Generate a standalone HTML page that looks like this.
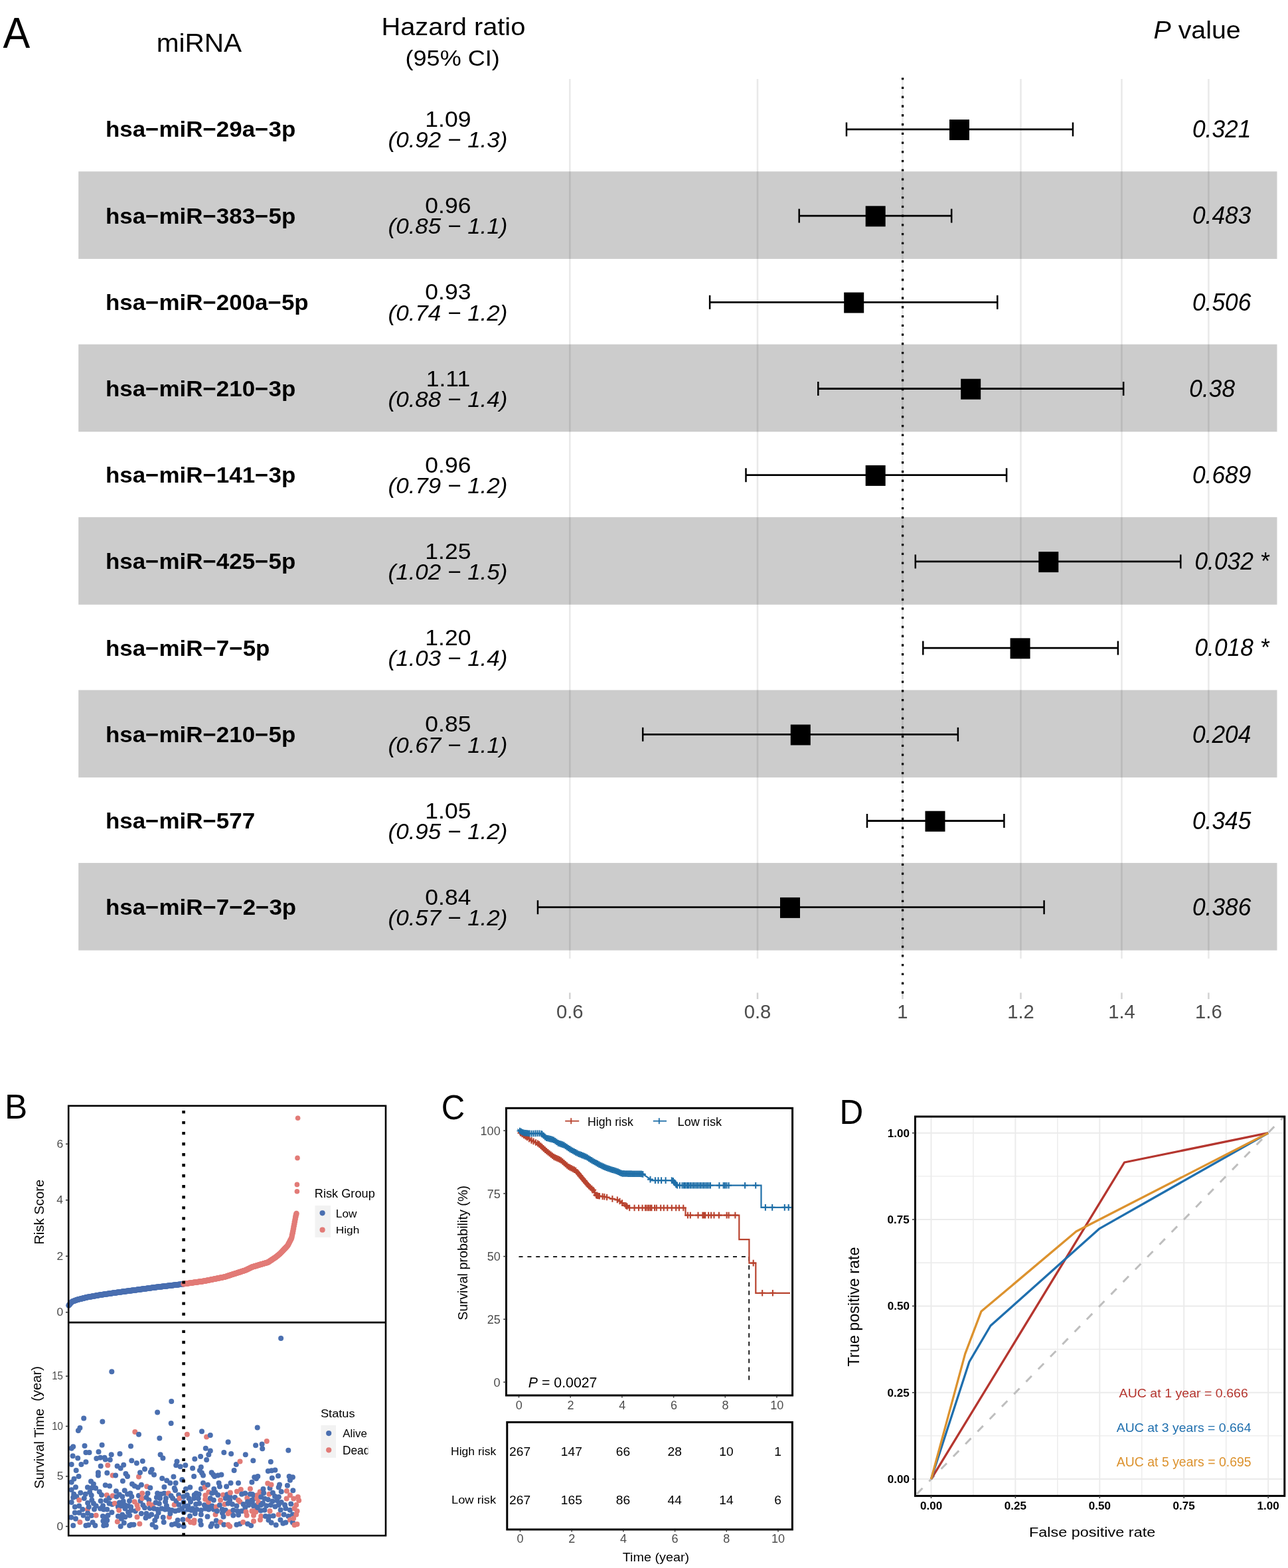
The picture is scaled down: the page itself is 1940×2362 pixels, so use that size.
<!DOCTYPE html>
<html><head><meta charset="utf-8"><title>Figure</title>
<style>html,body{margin:0;padding:0;background:#fff;} svg{display:block;} text{font-family:"Liberation Sans",Arial,sans-serif;}</style>
</head><body>
<svg width="1940" height="2362" viewBox="0 0 1940 2362">
<rect width="1940" height="2362" fill="#fff"/>
<text transform="translate(4.60,72.10) scale(0.9383,1)" font-size="65.07" font-weight="normal" font-style="normal" fill="#000" text-anchor="start" >A</text>
<text transform="translate(235.66,78.30) scale(1.0295,1)" font-size="39.45" font-weight="normal" font-style="normal" fill="#000" text-anchor="start" >miRNA</text>
<text transform="translate(574.41,53.14) scale(1.0922,1)" font-size="36.49" font-weight="normal" font-style="normal" fill="#000" text-anchor="start" >Hazard ratio</text>
<text transform="translate(610.54,99.05) scale(1.0903,1)" font-size="33.09" font-weight="normal" font-style="normal" fill="#000" text-anchor="start" >(95% CI)</text>
<text transform="translate(1737.42,58.44) scale(1.0795,1)" font-size="36.49" font-weight="normal" font-style="normal" fill="#000" text-anchor="start" ><tspan font-style="italic">P</tspan> value</text>
<rect x="118.20" y="258.30" width="1805.30" height="131.70" fill="#cccccc" stroke="none" stroke-width="0" />
<rect x="118.20" y="518.70" width="1805.30" height="131.70" fill="#cccccc" stroke="none" stroke-width="0" />
<rect x="118.20" y="779.10" width="1805.30" height="131.70" fill="#cccccc" stroke="none" stroke-width="0" />
<rect x="118.20" y="1039.50" width="1805.30" height="131.70" fill="#cccccc" stroke="none" stroke-width="0" />
<rect x="118.20" y="1299.90" width="1805.30" height="131.70" fill="#cccccc" stroke="none" stroke-width="0" />
<line x1="858.30" y1="119.00" x2="858.30" y2="1444.00" stroke="#000" stroke-width="2.6" stroke-opacity="0.085"/>
<line x1="1141.00" y1="119.00" x2="1141.00" y2="1444.00" stroke="#000" stroke-width="2.6" stroke-opacity="0.085"/>
<line x1="1359.50" y1="119.00" x2="1359.50" y2="1444.00" stroke="#000" stroke-width="2.6" stroke-opacity="0.085"/>
<line x1="1537.50" y1="119.00" x2="1537.50" y2="1444.00" stroke="#000" stroke-width="2.6" stroke-opacity="0.085"/>
<line x1="1689.50" y1="119.00" x2="1689.50" y2="1444.00" stroke="#000" stroke-width="2.6" stroke-opacity="0.085"/>
<line x1="1820.40" y1="119.00" x2="1820.40" y2="1444.00" stroke="#000" stroke-width="2.6" stroke-opacity="0.085"/>
<line x1="1275.00" y1="194.90" x2="1616.00" y2="194.90" stroke="#000" stroke-width="2.8" />
<line x1="1275.00" y1="184.40" x2="1275.00" y2="205.40" stroke="#000" stroke-width="2.5" />
<line x1="1616.00" y1="184.40" x2="1616.00" y2="205.40" stroke="#000" stroke-width="2.5" />
<rect x="1430.00" y="180.10" width="30.00" height="31.00" fill="#000" stroke="none" stroke-width="0" />
<text transform="translate(158.95,206.42) scale(1.0358,1)" font-size="33.72" font-weight="bold" font-style="normal" fill="#000" text-anchor="start" >hsa−miR−29a−3p</text>
<text transform="translate(640.36,190.96) scale(1.0430,1)" font-size="34.08" font-weight="normal" font-style="normal" fill="#000" text-anchor="start" >1.09</text>
<text transform="translate(584.55,222.23) scale(1.0246,1)" font-size="34.15" font-weight="normal" font-style="italic" fill="#000" text-anchor="start" >(0.92 − 1.3)</text>
<text transform="translate(1795.88,207.14) scale(0.9698,1)" font-size="36.48" font-weight="normal" font-style="italic" fill="#000" text-anchor="start" >0.321</text>
<line x1="1203.70" y1="325.10" x2="1433.20" y2="325.10" stroke="#000" stroke-width="2.8" />
<line x1="1203.70" y1="314.60" x2="1203.70" y2="335.60" stroke="#000" stroke-width="2.5" />
<line x1="1433.20" y1="314.60" x2="1433.20" y2="335.60" stroke="#000" stroke-width="2.5" />
<rect x="1303.70" y="310.30" width="30.00" height="31.00" fill="#000" stroke="none" stroke-width="0" />
<text transform="translate(158.95,336.62) scale(1.0358,1)" font-size="33.72" font-weight="bold" font-style="normal" fill="#000" text-anchor="start" >hsa−miR−383−5p</text>
<text transform="translate(640.36,321.16) scale(1.0430,1)" font-size="34.08" font-weight="normal" font-style="normal" fill="#000" text-anchor="start" >0.96</text>
<text transform="translate(584.55,352.43) scale(1.0246,1)" font-size="34.15" font-weight="normal" font-style="italic" fill="#000" text-anchor="start" >(0.85 − 1.1)</text>
<text transform="translate(1795.88,337.34) scale(0.9698,1)" font-size="36.48" font-weight="normal" font-style="italic" fill="#000" text-anchor="start" >0.483</text>
<line x1="1069.10" y1="455.30" x2="1502.30" y2="455.30" stroke="#000" stroke-width="2.8" />
<line x1="1069.10" y1="444.80" x2="1069.10" y2="465.80" stroke="#000" stroke-width="2.5" />
<line x1="1502.30" y1="444.80" x2="1502.30" y2="465.80" stroke="#000" stroke-width="2.5" />
<rect x="1271.20" y="440.50" width="30.00" height="31.00" fill="#000" stroke="none" stroke-width="0" />
<text transform="translate(158.95,466.82) scale(1.0358,1)" font-size="33.72" font-weight="bold" font-style="normal" fill="#000" text-anchor="start" >hsa−miR−200a−5p</text>
<text transform="translate(640.36,451.36) scale(1.0430,1)" font-size="34.08" font-weight="normal" font-style="normal" fill="#000" text-anchor="start" >0.93</text>
<text transform="translate(584.55,482.63) scale(1.0246,1)" font-size="34.15" font-weight="normal" font-style="italic" fill="#000" text-anchor="start" >(0.74 − 1.2)</text>
<text transform="translate(1795.88,467.54) scale(0.9698,1)" font-size="36.48" font-weight="normal" font-style="italic" fill="#000" text-anchor="start" >0.506</text>
<line x1="1232.30" y1="585.50" x2="1692.20" y2="585.50" stroke="#000" stroke-width="2.8" />
<line x1="1232.30" y1="575.00" x2="1232.30" y2="596.00" stroke="#000" stroke-width="2.5" />
<line x1="1692.20" y1="575.00" x2="1692.20" y2="596.00" stroke="#000" stroke-width="2.5" />
<rect x="1447.20" y="570.70" width="30.00" height="31.00" fill="#000" stroke="none" stroke-width="0" />
<text transform="translate(158.95,597.02) scale(1.0358,1)" font-size="33.72" font-weight="bold" font-style="normal" fill="#000" text-anchor="start" >hsa−miR−210−3p</text>
<text transform="translate(641.68,581.56) scale(1.0430,1)" font-size="34.08" font-weight="normal" font-style="normal" fill="#000" text-anchor="start" >1.11</text>
<text transform="translate(584.55,612.83) scale(1.0246,1)" font-size="34.15" font-weight="normal" font-style="italic" fill="#000" text-anchor="start" >(0.88 − 1.4)</text>
<text transform="translate(1791.28,597.74) scale(0.9698,1)" font-size="36.48" font-weight="normal" font-style="italic" fill="#000" text-anchor="start" >0.38</text>
<line x1="1123.50" y1="715.70" x2="1516.10" y2="715.70" stroke="#000" stroke-width="2.8" />
<line x1="1123.50" y1="705.20" x2="1123.50" y2="726.20" stroke="#000" stroke-width="2.5" />
<line x1="1516.10" y1="705.20" x2="1516.10" y2="726.20" stroke="#000" stroke-width="2.5" />
<rect x="1303.70" y="700.90" width="30.00" height="31.00" fill="#000" stroke="none" stroke-width="0" />
<text transform="translate(158.95,727.22) scale(1.0358,1)" font-size="33.72" font-weight="bold" font-style="normal" fill="#000" text-anchor="start" >hsa−miR−141−3p</text>
<text transform="translate(640.36,711.76) scale(1.0430,1)" font-size="34.08" font-weight="normal" font-style="normal" fill="#000" text-anchor="start" >0.96</text>
<text transform="translate(584.55,743.03) scale(1.0246,1)" font-size="34.15" font-weight="normal" font-style="italic" fill="#000" text-anchor="start" >(0.79 − 1.2)</text>
<text transform="translate(1795.88,727.94) scale(0.9698,1)" font-size="36.48" font-weight="normal" font-style="italic" fill="#000" text-anchor="start" >0.689</text>
<line x1="1378.80" y1="845.90" x2="1778.30" y2="845.90" stroke="#000" stroke-width="2.8" />
<line x1="1378.80" y1="835.40" x2="1378.80" y2="856.40" stroke="#000" stroke-width="2.5" />
<line x1="1778.30" y1="835.40" x2="1778.30" y2="856.40" stroke="#000" stroke-width="2.5" />
<rect x="1564.30" y="831.10" width="30.00" height="31.00" fill="#000" stroke="none" stroke-width="0" />
<text transform="translate(158.95,857.42) scale(1.0358,1)" font-size="33.72" font-weight="bold" font-style="normal" fill="#000" text-anchor="start" >hsa−miR−425−5p</text>
<text transform="translate(640.36,841.96) scale(1.0430,1)" font-size="34.08" font-weight="normal" font-style="normal" fill="#000" text-anchor="start" >1.25</text>
<text transform="translate(584.55,873.23) scale(1.0246,1)" font-size="34.15" font-weight="normal" font-style="italic" fill="#000" text-anchor="start" >(1.02 − 1.5)</text>
<text transform="translate(1799.38,858.14) scale(0.9698,1)" font-size="36.48" font-weight="normal" font-style="italic" fill="#000" text-anchor="start" >0.032 *</text>
<line x1="1390.30" y1="976.10" x2="1683.90" y2="976.10" stroke="#000" stroke-width="2.8" />
<line x1="1390.30" y1="965.60" x2="1390.30" y2="986.60" stroke="#000" stroke-width="2.5" />
<line x1="1683.90" y1="965.60" x2="1683.90" y2="986.60" stroke="#000" stroke-width="2.5" />
<rect x="1521.60" y="961.30" width="30.00" height="31.00" fill="#000" stroke="none" stroke-width="0" />
<text transform="translate(158.95,987.62) scale(1.0358,1)" font-size="33.72" font-weight="bold" font-style="normal" fill="#000" text-anchor="start" >hsa−miR−7−5p</text>
<text transform="translate(640.36,972.16) scale(1.0430,1)" font-size="34.08" font-weight="normal" font-style="normal" fill="#000" text-anchor="start" >1.20</text>
<text transform="translate(584.55,1003.43) scale(1.0246,1)" font-size="34.15" font-weight="normal" font-style="italic" fill="#000" text-anchor="start" >(1.03 − 1.4)</text>
<text transform="translate(1799.38,988.34) scale(0.9698,1)" font-size="36.48" font-weight="normal" font-style="italic" fill="#000" text-anchor="start" >0.018 *</text>
<line x1="968.20" y1="1106.30" x2="1442.90" y2="1106.30" stroke="#000" stroke-width="2.8" />
<line x1="968.20" y1="1095.80" x2="968.20" y2="1116.80" stroke="#000" stroke-width="2.5" />
<line x1="1442.90" y1="1095.80" x2="1442.90" y2="1116.80" stroke="#000" stroke-width="2.5" />
<rect x="1190.80" y="1091.50" width="30.00" height="31.00" fill="#000" stroke="none" stroke-width="0" />
<text transform="translate(158.95,1117.82) scale(1.0358,1)" font-size="33.72" font-weight="bold" font-style="normal" fill="#000" text-anchor="start" >hsa−miR−210−5p</text>
<text transform="translate(640.36,1102.36) scale(1.0430,1)" font-size="34.08" font-weight="normal" font-style="normal" fill="#000" text-anchor="start" >0.85</text>
<text transform="translate(584.55,1133.63) scale(1.0246,1)" font-size="34.15" font-weight="normal" font-style="italic" fill="#000" text-anchor="start" >(0.67 − 1.1)</text>
<text transform="translate(1795.88,1118.54) scale(0.9698,1)" font-size="36.48" font-weight="normal" font-style="italic" fill="#000" text-anchor="start" >0.204</text>
<line x1="1306.00" y1="1236.50" x2="1512.40" y2="1236.50" stroke="#000" stroke-width="2.8" />
<line x1="1306.00" y1="1226.00" x2="1306.00" y2="1247.00" stroke="#000" stroke-width="2.5" />
<line x1="1512.40" y1="1226.00" x2="1512.40" y2="1247.00" stroke="#000" stroke-width="2.5" />
<rect x="1393.50" y="1221.70" width="30.00" height="31.00" fill="#000" stroke="none" stroke-width="0" />
<text transform="translate(158.95,1248.02) scale(1.0358,1)" font-size="33.72" font-weight="bold" font-style="normal" fill="#000" text-anchor="start" >hsa−miR−577</text>
<text transform="translate(640.36,1232.56) scale(1.0430,1)" font-size="34.08" font-weight="normal" font-style="normal" fill="#000" text-anchor="start" >1.05</text>
<text transform="translate(584.55,1263.83) scale(1.0246,1)" font-size="34.15" font-weight="normal" font-style="italic" fill="#000" text-anchor="start" >(0.95 − 1.2)</text>
<text transform="translate(1795.88,1248.74) scale(0.9698,1)" font-size="36.48" font-weight="normal" font-style="italic" fill="#000" text-anchor="start" >0.345</text>
<line x1="810.00" y1="1366.70" x2="1572.60" y2="1366.70" stroke="#000" stroke-width="2.8" />
<line x1="810.00" y1="1356.20" x2="810.00" y2="1377.20" stroke="#000" stroke-width="2.5" />
<line x1="1572.60" y1="1356.20" x2="1572.60" y2="1377.20" stroke="#000" stroke-width="2.5" />
<rect x="1175.00" y="1351.90" width="30.00" height="31.00" fill="#000" stroke="none" stroke-width="0" />
<text transform="translate(158.95,1378.22) scale(1.0358,1)" font-size="33.72" font-weight="bold" font-style="normal" fill="#000" text-anchor="start" >hsa−miR−7−2−3p</text>
<text transform="translate(640.36,1362.76) scale(1.0430,1)" font-size="34.08" font-weight="normal" font-style="normal" fill="#000" text-anchor="start" >0.84</text>
<text transform="translate(584.55,1394.03) scale(1.0246,1)" font-size="34.15" font-weight="normal" font-style="italic" fill="#000" text-anchor="start" >(0.57 − 1.2)</text>
<text transform="translate(1795.88,1378.94) scale(0.9698,1)" font-size="36.48" font-weight="normal" font-style="italic" fill="#000" text-anchor="start" >0.386</text>
<line x1="858.30" y1="1495.40" x2="858.30" y2="1505.00" stroke="#d2d2d2" stroke-width="2.5" />
<text transform="translate(837.93,1533.61) scale(0.9980,1)" font-size="29.30" font-weight="normal" font-style="normal" fill="#4d4d4d" text-anchor="start" >0.6</text>
<line x1="1141.00" y1="1495.40" x2="1141.00" y2="1505.00" stroke="#d2d2d2" stroke-width="2.5" />
<text transform="translate(1120.68,1533.61) scale(0.9980,1)" font-size="29.30" font-weight="normal" font-style="normal" fill="#4d4d4d" text-anchor="start" >0.8</text>
<line x1="1359.50" y1="1495.40" x2="1359.50" y2="1505.00" stroke="#d2d2d2" stroke-width="2.5" />
<text transform="translate(1351.37,1533.61) scale(0.9980,1)" font-size="29.30" font-weight="normal" font-style="normal" fill="#4d4d4d" text-anchor="start" >1</text>
<line x1="1537.50" y1="1495.40" x2="1537.50" y2="1505.00" stroke="#d2d2d2" stroke-width="2.5" />
<text transform="translate(1517.18,1533.61) scale(0.9980,1)" font-size="29.30" font-weight="normal" font-style="normal" fill="#4d4d4d" text-anchor="start" >1.2</text>
<line x1="1689.50" y1="1495.40" x2="1689.50" y2="1505.00" stroke="#d2d2d2" stroke-width="2.5" />
<text transform="translate(1669.18,1533.61) scale(0.9980,1)" font-size="29.30" font-weight="normal" font-style="normal" fill="#4d4d4d" text-anchor="start" >1.4</text>
<line x1="1820.40" y1="1495.40" x2="1820.40" y2="1505.00" stroke="#d2d2d2" stroke-width="2.5" />
<text transform="translate(1800.08,1533.61) scale(0.9980,1)" font-size="29.30" font-weight="normal" font-style="normal" fill="#4d4d4d" text-anchor="start" >1.6</text>
<path d="M1357.95,117.05h3.3v3.3h-3.3zM1357.95,130.81h3.3v3.3h-3.3zM1357.95,144.58h3.3v3.3h-3.3zM1357.95,158.34h3.3v3.3h-3.3zM1357.95,172.10h3.3v3.3h-3.3zM1357.95,185.86h3.3v3.3h-3.3zM1357.95,199.63h3.3v3.3h-3.3zM1357.95,213.39h3.3v3.3h-3.3zM1357.95,227.15h3.3v3.3h-3.3zM1357.95,240.92h3.3v3.3h-3.3zM1357.95,254.68h3.3v3.3h-3.3zM1357.95,268.44h3.3v3.3h-3.3zM1357.95,282.21h3.3v3.3h-3.3zM1357.95,295.97h3.3v3.3h-3.3zM1357.95,309.73h3.3v3.3h-3.3zM1357.95,323.50h3.3v3.3h-3.3zM1357.95,337.26h3.3v3.3h-3.3zM1357.95,351.02h3.3v3.3h-3.3zM1357.95,364.78h3.3v3.3h-3.3zM1357.95,378.55h3.3v3.3h-3.3zM1357.95,392.31h3.3v3.3h-3.3zM1357.95,406.07h3.3v3.3h-3.3zM1357.95,419.84h3.3v3.3h-3.3zM1357.95,433.60h3.3v3.3h-3.3zM1357.95,447.36h3.3v3.3h-3.3zM1357.95,461.12h3.3v3.3h-3.3zM1357.95,474.89h3.3v3.3h-3.3zM1357.95,488.65h3.3v3.3h-3.3zM1357.95,502.41h3.3v3.3h-3.3zM1357.95,516.18h3.3v3.3h-3.3zM1357.95,529.94h3.3v3.3h-3.3zM1357.95,543.70h3.3v3.3h-3.3zM1357.95,557.47h3.3v3.3h-3.3zM1357.95,571.23h3.3v3.3h-3.3zM1357.95,584.99h3.3v3.3h-3.3zM1357.95,598.75h3.3v3.3h-3.3zM1357.95,612.52h3.3v3.3h-3.3zM1357.95,626.28h3.3v3.3h-3.3zM1357.95,640.04h3.3v3.3h-3.3zM1357.95,653.81h3.3v3.3h-3.3zM1357.95,667.57h3.3v3.3h-3.3zM1357.95,681.33h3.3v3.3h-3.3zM1357.95,695.10h3.3v3.3h-3.3zM1357.95,708.86h3.3v3.3h-3.3zM1357.95,722.62h3.3v3.3h-3.3zM1357.95,736.39h3.3v3.3h-3.3zM1357.95,750.15h3.3v3.3h-3.3zM1357.95,763.91h3.3v3.3h-3.3zM1357.95,777.67h3.3v3.3h-3.3zM1357.95,791.44h3.3v3.3h-3.3zM1357.95,805.20h3.3v3.3h-3.3zM1357.95,818.96h3.3v3.3h-3.3zM1357.95,832.73h3.3v3.3h-3.3zM1357.95,846.49h3.3v3.3h-3.3zM1357.95,860.25h3.3v3.3h-3.3zM1357.95,874.02h3.3v3.3h-3.3zM1357.95,887.78h3.3v3.3h-3.3zM1357.95,901.54h3.3v3.3h-3.3zM1357.95,915.30h3.3v3.3h-3.3zM1357.95,929.07h3.3v3.3h-3.3zM1357.95,942.83h3.3v3.3h-3.3zM1357.95,956.59h3.3v3.3h-3.3zM1357.95,970.36h3.3v3.3h-3.3zM1357.95,984.12h3.3v3.3h-3.3zM1357.95,997.88h3.3v3.3h-3.3zM1357.95,1011.65h3.3v3.3h-3.3zM1357.95,1025.41h3.3v3.3h-3.3zM1357.95,1039.17h3.3v3.3h-3.3zM1357.95,1052.93h3.3v3.3h-3.3zM1357.95,1066.70h3.3v3.3h-3.3zM1357.95,1080.46h3.3v3.3h-3.3zM1357.95,1094.22h3.3v3.3h-3.3zM1357.95,1107.99h3.3v3.3h-3.3zM1357.95,1121.75h3.3v3.3h-3.3zM1357.95,1135.51h3.3v3.3h-3.3zM1357.95,1149.27h3.3v3.3h-3.3zM1357.95,1163.04h3.3v3.3h-3.3zM1357.95,1176.80h3.3v3.3h-3.3zM1357.95,1190.56h3.3v3.3h-3.3zM1357.95,1204.33h3.3v3.3h-3.3zM1357.95,1218.09h3.3v3.3h-3.3zM1357.95,1231.85h3.3v3.3h-3.3zM1357.95,1245.62h3.3v3.3h-3.3zM1357.95,1259.38h3.3v3.3h-3.3zM1357.95,1273.14h3.3v3.3h-3.3zM1357.95,1286.90h3.3v3.3h-3.3zM1357.95,1300.67h3.3v3.3h-3.3zM1357.95,1314.43h3.3v3.3h-3.3zM1357.95,1328.19h3.3v3.3h-3.3zM1357.95,1341.96h3.3v3.3h-3.3zM1357.95,1355.72h3.3v3.3h-3.3zM1357.95,1369.48h3.3v3.3h-3.3zM1357.95,1383.25h3.3v3.3h-3.3zM1357.95,1397.01h3.3v3.3h-3.3zM1357.95,1410.77h3.3v3.3h-3.3zM1357.95,1424.53h3.3v3.3h-3.3zM1357.95,1438.30h3.3v3.3h-3.3zM1357.95,1452.06h3.3v3.3h-3.3zM1357.95,1465.82h3.3v3.3h-3.3zM1357.95,1479.59h3.3v3.3h-3.3zM1357.95,1493.35h3.3v3.3h-3.3z" fill="#000"/>
<text transform="translate(7.09,1684.90) scale(1.0060,1)" font-size="51.01" font-weight="normal" font-style="normal" fill="#000" text-anchor="start" >B</text>
<g>
<circle cx="103.5" cy="1966.5" r="4.3" fill="#4a6fb0"/>
<circle cx="104.1" cy="1965.7" r="4.3" fill="#4a6fb0"/>
<circle cx="104.8" cy="1965.0" r="4.3" fill="#4a6fb0"/>
<circle cx="105.4" cy="1964.2" r="4.3" fill="#4a6fb0"/>
<circle cx="106.1" cy="1963.5" r="4.3" fill="#4a6fb0"/>
<circle cx="106.7" cy="1962.7" r="4.3" fill="#4a6fb0"/>
<circle cx="107.4" cy="1962.0" r="4.3" fill="#4a6fb0"/>
<circle cx="108.0" cy="1961.2" r="4.3" fill="#4a6fb0"/>
<circle cx="108.7" cy="1960.8" r="4.3" fill="#4a6fb0"/>
<circle cx="109.3" cy="1960.5" r="4.3" fill="#4a6fb0"/>
<circle cx="110.0" cy="1960.3" r="4.3" fill="#4a6fb0"/>
<circle cx="110.6" cy="1960.0" r="4.3" fill="#4a6fb0"/>
<circle cx="111.3" cy="1959.8" r="4.3" fill="#4a6fb0"/>
<circle cx="111.9" cy="1959.5" r="4.3" fill="#4a6fb0"/>
<circle cx="112.6" cy="1959.3" r="4.3" fill="#4a6fb0"/>
<circle cx="113.2" cy="1959.1" r="4.3" fill="#4a6fb0"/>
<circle cx="113.9" cy="1958.8" r="4.3" fill="#4a6fb0"/>
<circle cx="114.5" cy="1958.6" r="4.3" fill="#4a6fb0"/>
<circle cx="115.2" cy="1958.3" r="4.3" fill="#4a6fb0"/>
<circle cx="115.8" cy="1958.1" r="4.3" fill="#4a6fb0"/>
<circle cx="116.5" cy="1957.8" r="4.3" fill="#4a6fb0"/>
<circle cx="117.1" cy="1957.7" r="4.3" fill="#4a6fb0"/>
<circle cx="117.8" cy="1957.5" r="4.3" fill="#4a6fb0"/>
<circle cx="118.4" cy="1957.3" r="4.3" fill="#4a6fb0"/>
<circle cx="119.1" cy="1957.2" r="4.3" fill="#4a6fb0"/>
<circle cx="119.7" cy="1957.0" r="4.3" fill="#4a6fb0"/>
<circle cx="120.4" cy="1956.9" r="4.3" fill="#4a6fb0"/>
<circle cx="121.0" cy="1956.7" r="4.3" fill="#4a6fb0"/>
<circle cx="121.7" cy="1956.5" r="4.3" fill="#4a6fb0"/>
<circle cx="122.3" cy="1956.4" r="4.3" fill="#4a6fb0"/>
<circle cx="123.0" cy="1956.2" r="4.3" fill="#4a6fb0"/>
<circle cx="123.6" cy="1956.1" r="4.3" fill="#4a6fb0"/>
<circle cx="124.2" cy="1955.9" r="4.3" fill="#4a6fb0"/>
<circle cx="124.9" cy="1955.7" r="4.3" fill="#4a6fb0"/>
<circle cx="125.5" cy="1955.6" r="4.3" fill="#4a6fb0"/>
<circle cx="126.2" cy="1955.4" r="4.3" fill="#4a6fb0"/>
<circle cx="126.8" cy="1955.3" r="4.3" fill="#4a6fb0"/>
<circle cx="127.5" cy="1955.1" r="4.3" fill="#4a6fb0"/>
<circle cx="128.1" cy="1954.9" r="4.3" fill="#4a6fb0"/>
<circle cx="128.8" cy="1954.8" r="4.3" fill="#4a6fb0"/>
<circle cx="129.4" cy="1954.6" r="4.3" fill="#4a6fb0"/>
<circle cx="130.1" cy="1954.5" r="4.3" fill="#4a6fb0"/>
<circle cx="130.7" cy="1954.3" r="4.3" fill="#4a6fb0"/>
<circle cx="131.4" cy="1954.1" r="4.3" fill="#4a6fb0"/>
<circle cx="132.0" cy="1954.0" r="4.3" fill="#4a6fb0"/>
<circle cx="132.7" cy="1953.9" r="4.3" fill="#4a6fb0"/>
<circle cx="133.3" cy="1953.8" r="4.3" fill="#4a6fb0"/>
<circle cx="134.0" cy="1953.7" r="4.3" fill="#4a6fb0"/>
<circle cx="134.6" cy="1953.6" r="4.3" fill="#4a6fb0"/>
<circle cx="135.3" cy="1953.5" r="4.3" fill="#4a6fb0"/>
<circle cx="135.9" cy="1953.3" r="4.3" fill="#4a6fb0"/>
<circle cx="136.6" cy="1953.2" r="4.3" fill="#4a6fb0"/>
<circle cx="137.2" cy="1953.1" r="4.3" fill="#4a6fb0"/>
<circle cx="137.9" cy="1953.0" r="4.3" fill="#4a6fb0"/>
<circle cx="138.5" cy="1952.9" r="4.3" fill="#4a6fb0"/>
<circle cx="139.2" cy="1952.8" r="4.3" fill="#4a6fb0"/>
<circle cx="139.8" cy="1952.6" r="4.3" fill="#4a6fb0"/>
<circle cx="140.5" cy="1952.5" r="4.3" fill="#4a6fb0"/>
<circle cx="141.1" cy="1952.4" r="4.3" fill="#4a6fb0"/>
<circle cx="141.8" cy="1952.3" r="4.3" fill="#4a6fb0"/>
<circle cx="142.4" cy="1952.2" r="4.3" fill="#4a6fb0"/>
<circle cx="143.1" cy="1952.1" r="4.3" fill="#4a6fb0"/>
<circle cx="143.7" cy="1951.9" r="4.3" fill="#4a6fb0"/>
<circle cx="144.3" cy="1951.8" r="4.3" fill="#4a6fb0"/>
<circle cx="145.0" cy="1951.7" r="4.3" fill="#4a6fb0"/>
<circle cx="145.6" cy="1951.6" r="4.3" fill="#4a6fb0"/>
<circle cx="146.3" cy="1951.5" r="4.3" fill="#4a6fb0"/>
<circle cx="146.9" cy="1951.4" r="4.3" fill="#4a6fb0"/>
<circle cx="147.6" cy="1951.3" r="4.3" fill="#4a6fb0"/>
<circle cx="148.2" cy="1951.1" r="4.3" fill="#4a6fb0"/>
<circle cx="148.9" cy="1951.0" r="4.3" fill="#4a6fb0"/>
<circle cx="149.5" cy="1950.9" r="4.3" fill="#4a6fb0"/>
<circle cx="150.2" cy="1950.8" r="4.3" fill="#4a6fb0"/>
<circle cx="150.8" cy="1950.7" r="4.3" fill="#4a6fb0"/>
<circle cx="151.5" cy="1950.6" r="4.3" fill="#4a6fb0"/>
<circle cx="152.1" cy="1950.5" r="4.3" fill="#4a6fb0"/>
<circle cx="152.8" cy="1950.4" r="4.3" fill="#4a6fb0"/>
<circle cx="153.4" cy="1950.3" r="4.3" fill="#4a6fb0"/>
<circle cx="154.1" cy="1950.2" r="4.3" fill="#4a6fb0"/>
<circle cx="154.7" cy="1950.1" r="4.3" fill="#4a6fb0"/>
<circle cx="155.4" cy="1950.0" r="4.3" fill="#4a6fb0"/>
<circle cx="156.0" cy="1949.9" r="4.3" fill="#4a6fb0"/>
<circle cx="156.7" cy="1949.8" r="4.3" fill="#4a6fb0"/>
<circle cx="157.3" cy="1949.7" r="4.3" fill="#4a6fb0"/>
<circle cx="158.0" cy="1949.6" r="4.3" fill="#4a6fb0"/>
<circle cx="158.6" cy="1949.5" r="4.3" fill="#4a6fb0"/>
<circle cx="159.3" cy="1949.4" r="4.3" fill="#4a6fb0"/>
<circle cx="159.9" cy="1949.3" r="4.3" fill="#4a6fb0"/>
<circle cx="160.6" cy="1949.2" r="4.3" fill="#4a6fb0"/>
<circle cx="161.2" cy="1949.1" r="4.3" fill="#4a6fb0"/>
<circle cx="161.9" cy="1949.0" r="4.3" fill="#4a6fb0"/>
<circle cx="162.5" cy="1949.0" r="4.3" fill="#4a6fb0"/>
<circle cx="163.2" cy="1948.9" r="4.3" fill="#4a6fb0"/>
<circle cx="163.8" cy="1948.8" r="4.3" fill="#4a6fb0"/>
<circle cx="164.4" cy="1948.7" r="4.3" fill="#4a6fb0"/>
<circle cx="165.1" cy="1948.6" r="4.3" fill="#4a6fb0"/>
<circle cx="165.7" cy="1948.5" r="4.3" fill="#4a6fb0"/>
<circle cx="166.4" cy="1948.4" r="4.3" fill="#4a6fb0"/>
<circle cx="167.0" cy="1948.3" r="4.3" fill="#4a6fb0"/>
<circle cx="167.7" cy="1948.2" r="4.3" fill="#4a6fb0"/>
<circle cx="168.3" cy="1948.1" r="4.3" fill="#4a6fb0"/>
<circle cx="169.0" cy="1948.0" r="4.3" fill="#4a6fb0"/>
<circle cx="169.6" cy="1947.9" r="4.3" fill="#4a6fb0"/>
<circle cx="170.3" cy="1947.8" r="4.3" fill="#4a6fb0"/>
<circle cx="170.9" cy="1947.7" r="4.3" fill="#4a6fb0"/>
<circle cx="171.6" cy="1947.6" r="4.3" fill="#4a6fb0"/>
<circle cx="172.2" cy="1947.6" r="4.3" fill="#4a6fb0"/>
<circle cx="172.9" cy="1947.5" r="4.3" fill="#4a6fb0"/>
<circle cx="173.5" cy="1947.4" r="4.3" fill="#4a6fb0"/>
<circle cx="174.2" cy="1947.3" r="4.3" fill="#4a6fb0"/>
<circle cx="174.8" cy="1947.2" r="4.3" fill="#4a6fb0"/>
<circle cx="175.5" cy="1947.1" r="4.3" fill="#4a6fb0"/>
<circle cx="176.1" cy="1947.0" r="4.3" fill="#4a6fb0"/>
<circle cx="176.8" cy="1946.9" r="4.3" fill="#4a6fb0"/>
<circle cx="177.4" cy="1946.8" r="4.3" fill="#4a6fb0"/>
<circle cx="178.1" cy="1946.7" r="4.3" fill="#4a6fb0"/>
<circle cx="178.7" cy="1946.6" r="4.3" fill="#4a6fb0"/>
<circle cx="179.4" cy="1946.5" r="4.3" fill="#4a6fb0"/>
<circle cx="180.0" cy="1946.4" r="4.3" fill="#4a6fb0"/>
<circle cx="180.7" cy="1946.3" r="4.3" fill="#4a6fb0"/>
<circle cx="181.3" cy="1946.2" r="4.3" fill="#4a6fb0"/>
<circle cx="182.0" cy="1946.2" r="4.3" fill="#4a6fb0"/>
<circle cx="182.6" cy="1946.1" r="4.3" fill="#4a6fb0"/>
<circle cx="183.3" cy="1946.0" r="4.3" fill="#4a6fb0"/>
<circle cx="183.9" cy="1945.9" r="4.3" fill="#4a6fb0"/>
<circle cx="184.5" cy="1945.8" r="4.3" fill="#4a6fb0"/>
<circle cx="185.2" cy="1945.7" r="4.3" fill="#4a6fb0"/>
<circle cx="185.8" cy="1945.6" r="4.3" fill="#4a6fb0"/>
<circle cx="186.5" cy="1945.5" r="4.3" fill="#4a6fb0"/>
<circle cx="187.1" cy="1945.5" r="4.3" fill="#4a6fb0"/>
<circle cx="187.8" cy="1945.4" r="4.3" fill="#4a6fb0"/>
<circle cx="188.4" cy="1945.3" r="4.3" fill="#4a6fb0"/>
<circle cx="189.1" cy="1945.2" r="4.3" fill="#4a6fb0"/>
<circle cx="189.7" cy="1945.1" r="4.3" fill="#4a6fb0"/>
<circle cx="190.4" cy="1945.0" r="4.3" fill="#4a6fb0"/>
<circle cx="191.0" cy="1945.0" r="4.3" fill="#4a6fb0"/>
<circle cx="191.7" cy="1944.9" r="4.3" fill="#4a6fb0"/>
<circle cx="192.3" cy="1944.8" r="4.3" fill="#4a6fb0"/>
<circle cx="193.0" cy="1944.7" r="4.3" fill="#4a6fb0"/>
<circle cx="193.6" cy="1944.6" r="4.3" fill="#4a6fb0"/>
<circle cx="194.3" cy="1944.5" r="4.3" fill="#4a6fb0"/>
<circle cx="194.9" cy="1944.4" r="4.3" fill="#4a6fb0"/>
<circle cx="195.6" cy="1944.4" r="4.3" fill="#4a6fb0"/>
<circle cx="196.2" cy="1944.3" r="4.3" fill="#4a6fb0"/>
<circle cx="196.9" cy="1944.2" r="4.3" fill="#4a6fb0"/>
<circle cx="197.5" cy="1944.1" r="4.3" fill="#4a6fb0"/>
<circle cx="198.2" cy="1944.0" r="4.3" fill="#4a6fb0"/>
<circle cx="198.8" cy="1943.9" r="4.3" fill="#4a6fb0"/>
<circle cx="199.5" cy="1943.9" r="4.3" fill="#4a6fb0"/>
<circle cx="200.1" cy="1943.8" r="4.3" fill="#4a6fb0"/>
<circle cx="200.8" cy="1943.7" r="4.3" fill="#4a6fb0"/>
<circle cx="201.4" cy="1943.6" r="4.3" fill="#4a6fb0"/>
<circle cx="202.1" cy="1943.5" r="4.3" fill="#4a6fb0"/>
<circle cx="202.7" cy="1943.4" r="4.3" fill="#4a6fb0"/>
<circle cx="203.4" cy="1943.3" r="4.3" fill="#4a6fb0"/>
<circle cx="204.0" cy="1943.3" r="4.3" fill="#4a6fb0"/>
<circle cx="204.6" cy="1943.2" r="4.3" fill="#4a6fb0"/>
<circle cx="205.3" cy="1943.1" r="4.3" fill="#4a6fb0"/>
<circle cx="205.9" cy="1943.0" r="4.3" fill="#4a6fb0"/>
<circle cx="206.6" cy="1942.9" r="4.3" fill="#4a6fb0"/>
<circle cx="207.2" cy="1942.8" r="4.3" fill="#4a6fb0"/>
<circle cx="207.9" cy="1942.7" r="4.3" fill="#4a6fb0"/>
<circle cx="208.5" cy="1942.6" r="4.3" fill="#4a6fb0"/>
<circle cx="209.2" cy="1942.6" r="4.3" fill="#4a6fb0"/>
<circle cx="209.8" cy="1942.5" r="4.3" fill="#4a6fb0"/>
<circle cx="210.5" cy="1942.4" r="4.3" fill="#4a6fb0"/>
<circle cx="211.1" cy="1942.3" r="4.3" fill="#4a6fb0"/>
<circle cx="211.8" cy="1942.2" r="4.3" fill="#4a6fb0"/>
<circle cx="212.4" cy="1942.1" r="4.3" fill="#4a6fb0"/>
<circle cx="213.1" cy="1942.0" r="4.3" fill="#4a6fb0"/>
<circle cx="213.7" cy="1941.9" r="4.3" fill="#4a6fb0"/>
<circle cx="214.4" cy="1941.9" r="4.3" fill="#4a6fb0"/>
<circle cx="215.0" cy="1941.8" r="4.3" fill="#4a6fb0"/>
<circle cx="215.7" cy="1941.7" r="4.3" fill="#4a6fb0"/>
<circle cx="216.3" cy="1941.6" r="4.3" fill="#4a6fb0"/>
<circle cx="217.0" cy="1941.5" r="4.3" fill="#4a6fb0"/>
<circle cx="217.6" cy="1941.4" r="4.3" fill="#4a6fb0"/>
<circle cx="218.3" cy="1941.3" r="4.3" fill="#4a6fb0"/>
<circle cx="218.9" cy="1941.2" r="4.3" fill="#4a6fb0"/>
<circle cx="219.6" cy="1941.2" r="4.3" fill="#4a6fb0"/>
<circle cx="220.2" cy="1941.1" r="4.3" fill="#4a6fb0"/>
<circle cx="220.9" cy="1941.0" r="4.3" fill="#4a6fb0"/>
<circle cx="221.5" cy="1940.9" r="4.3" fill="#4a6fb0"/>
<circle cx="222.2" cy="1940.8" r="4.3" fill="#4a6fb0"/>
<circle cx="222.8" cy="1940.7" r="4.3" fill="#4a6fb0"/>
<circle cx="223.5" cy="1940.6" r="4.3" fill="#4a6fb0"/>
<circle cx="224.1" cy="1940.5" r="4.3" fill="#4a6fb0"/>
<circle cx="224.7" cy="1940.5" r="4.3" fill="#4a6fb0"/>
<circle cx="225.4" cy="1940.4" r="4.3" fill="#4a6fb0"/>
<circle cx="226.0" cy="1940.3" r="4.3" fill="#4a6fb0"/>
<circle cx="226.7" cy="1940.2" r="4.3" fill="#4a6fb0"/>
<circle cx="227.3" cy="1940.1" r="4.3" fill="#4a6fb0"/>
<circle cx="228.0" cy="1940.0" r="4.3" fill="#4a6fb0"/>
<circle cx="228.6" cy="1939.9" r="4.3" fill="#4a6fb0"/>
<circle cx="229.3" cy="1939.8" r="4.3" fill="#4a6fb0"/>
<circle cx="229.9" cy="1939.8" r="4.3" fill="#4a6fb0"/>
<circle cx="230.6" cy="1939.7" r="4.3" fill="#4a6fb0"/>
<circle cx="231.2" cy="1939.6" r="4.3" fill="#4a6fb0"/>
<circle cx="231.9" cy="1939.5" r="4.3" fill="#4a6fb0"/>
<circle cx="232.5" cy="1939.4" r="4.3" fill="#4a6fb0"/>
<circle cx="233.2" cy="1939.3" r="4.3" fill="#4a6fb0"/>
<circle cx="233.8" cy="1939.2" r="4.3" fill="#4a6fb0"/>
<circle cx="234.5" cy="1939.1" r="4.3" fill="#4a6fb0"/>
<circle cx="235.1" cy="1939.1" r="4.3" fill="#4a6fb0"/>
<circle cx="235.8" cy="1939.0" r="4.3" fill="#4a6fb0"/>
<circle cx="236.4" cy="1938.9" r="4.3" fill="#4a6fb0"/>
<circle cx="237.1" cy="1938.8" r="4.3" fill="#4a6fb0"/>
<circle cx="237.7" cy="1938.8" r="4.3" fill="#4a6fb0"/>
<circle cx="238.4" cy="1938.7" r="4.3" fill="#4a6fb0"/>
<circle cx="239.0" cy="1938.6" r="4.3" fill="#4a6fb0"/>
<circle cx="239.7" cy="1938.5" r="4.3" fill="#4a6fb0"/>
<circle cx="240.3" cy="1938.4" r="4.3" fill="#4a6fb0"/>
<circle cx="241.0" cy="1938.4" r="4.3" fill="#4a6fb0"/>
<circle cx="241.6" cy="1938.3" r="4.3" fill="#4a6fb0"/>
<circle cx="242.3" cy="1938.2" r="4.3" fill="#4a6fb0"/>
<circle cx="242.9" cy="1938.1" r="4.3" fill="#4a6fb0"/>
<circle cx="243.6" cy="1938.1" r="4.3" fill="#4a6fb0"/>
<circle cx="244.2" cy="1938.0" r="4.3" fill="#4a6fb0"/>
<circle cx="244.8" cy="1937.9" r="4.3" fill="#4a6fb0"/>
<circle cx="245.5" cy="1937.8" r="4.3" fill="#4a6fb0"/>
<circle cx="246.1" cy="1937.8" r="4.3" fill="#4a6fb0"/>
<circle cx="246.8" cy="1937.7" r="4.3" fill="#4a6fb0"/>
<circle cx="247.4" cy="1937.6" r="4.3" fill="#4a6fb0"/>
<circle cx="248.1" cy="1937.5" r="4.3" fill="#4a6fb0"/>
<circle cx="248.7" cy="1937.4" r="4.3" fill="#4a6fb0"/>
<circle cx="249.4" cy="1937.4" r="4.3" fill="#4a6fb0"/>
<circle cx="250.0" cy="1937.3" r="4.3" fill="#4a6fb0"/>
<circle cx="250.7" cy="1937.2" r="4.3" fill="#4a6fb0"/>
<circle cx="251.3" cy="1937.1" r="4.3" fill="#4a6fb0"/>
<circle cx="252.0" cy="1937.1" r="4.3" fill="#4a6fb0"/>
<circle cx="252.6" cy="1937.0" r="4.3" fill="#4a6fb0"/>
<circle cx="253.3" cy="1936.9" r="4.3" fill="#4a6fb0"/>
<circle cx="253.9" cy="1936.8" r="4.3" fill="#4a6fb0"/>
<circle cx="254.6" cy="1936.8" r="4.3" fill="#4a6fb0"/>
<circle cx="255.2" cy="1936.7" r="4.3" fill="#4a6fb0"/>
<circle cx="255.9" cy="1936.6" r="4.3" fill="#4a6fb0"/>
<circle cx="256.5" cy="1936.5" r="4.3" fill="#4a6fb0"/>
<circle cx="257.2" cy="1936.4" r="4.3" fill="#4a6fb0"/>
<circle cx="257.8" cy="1936.4" r="4.3" fill="#4a6fb0"/>
<circle cx="258.5" cy="1936.3" r="4.3" fill="#4a6fb0"/>
<circle cx="259.1" cy="1936.2" r="4.3" fill="#4a6fb0"/>
<circle cx="259.8" cy="1936.1" r="4.3" fill="#4a6fb0"/>
<circle cx="260.4" cy="1936.1" r="4.3" fill="#4a6fb0"/>
<circle cx="261.1" cy="1936.0" r="4.3" fill="#4a6fb0"/>
<circle cx="261.7" cy="1935.9" r="4.3" fill="#4a6fb0"/>
<circle cx="262.4" cy="1935.8" r="4.3" fill="#4a6fb0"/>
<circle cx="263.0" cy="1935.7" r="4.3" fill="#4a6fb0"/>
<circle cx="263.7" cy="1935.7" r="4.3" fill="#4a6fb0"/>
<circle cx="264.3" cy="1935.6" r="4.3" fill="#4a6fb0"/>
<circle cx="264.9" cy="1935.5" r="4.3" fill="#4a6fb0"/>
<circle cx="265.6" cy="1935.4" r="4.3" fill="#4a6fb0"/>
<circle cx="266.2" cy="1935.4" r="4.3" fill="#4a6fb0"/>
<circle cx="266.9" cy="1935.3" r="4.3" fill="#4a6fb0"/>
<circle cx="267.5" cy="1935.2" r="4.3" fill="#4a6fb0"/>
<circle cx="268.2" cy="1935.1" r="4.3" fill="#4a6fb0"/>
<circle cx="268.8" cy="1935.1" r="4.3" fill="#4a6fb0"/>
<circle cx="269.5" cy="1935.0" r="4.3" fill="#4a6fb0"/>
<circle cx="270.1" cy="1934.9" r="4.3" fill="#4a6fb0"/>
<circle cx="270.8" cy="1934.8" r="4.3" fill="#4a6fb0"/>
<circle cx="271.4" cy="1934.7" r="4.3" fill="#4a6fb0"/>
<circle cx="272.1" cy="1934.7" r="4.3" fill="#4a6fb0"/>
<circle cx="272.7" cy="1934.6" r="4.3" fill="#4a6fb0"/>
<circle cx="273.4" cy="1934.5" r="4.3" fill="#4a6fb0"/>
<circle cx="274.0" cy="1934.4" r="4.3" fill="#4a6fb0"/>
<circle cx="274.7" cy="1934.4" r="4.3" fill="#4a6fb0"/>
<circle cx="275.3" cy="1934.3" r="4.3" fill="#4a6fb0"/>
<circle cx="276.0" cy="1934.2" r="4.3" fill="#4a6fb0"/>
<circle cx="276.6" cy="1934.1" r="4.3" fill="#e27b77"/>
<circle cx="277.3" cy="1934.0" r="4.3" fill="#e27b77"/>
<circle cx="277.9" cy="1933.9" r="4.3" fill="#e27b77"/>
<circle cx="278.6" cy="1933.8" r="4.3" fill="#e27b77"/>
<circle cx="279.2" cy="1933.7" r="4.3" fill="#e27b77"/>
<circle cx="279.9" cy="1933.6" r="4.3" fill="#e27b77"/>
<circle cx="280.5" cy="1933.6" r="4.3" fill="#e27b77"/>
<circle cx="281.2" cy="1933.5" r="4.3" fill="#e27b77"/>
<circle cx="281.8" cy="1933.4" r="4.3" fill="#e27b77"/>
<circle cx="282.5" cy="1933.3" r="4.3" fill="#e27b77"/>
<circle cx="283.1" cy="1933.2" r="4.3" fill="#e27b77"/>
<circle cx="283.8" cy="1933.1" r="4.3" fill="#e27b77"/>
<circle cx="284.4" cy="1933.0" r="4.3" fill="#e27b77"/>
<circle cx="285.1" cy="1932.9" r="4.3" fill="#e27b77"/>
<circle cx="285.7" cy="1932.8" r="4.3" fill="#e27b77"/>
<circle cx="286.3" cy="1932.7" r="4.3" fill="#e27b77"/>
<circle cx="287.0" cy="1932.7" r="4.3" fill="#e27b77"/>
<circle cx="287.6" cy="1932.6" r="4.3" fill="#e27b77"/>
<circle cx="288.3" cy="1932.5" r="4.3" fill="#e27b77"/>
<circle cx="288.9" cy="1932.4" r="4.3" fill="#e27b77"/>
<circle cx="289.6" cy="1932.3" r="4.3" fill="#e27b77"/>
<circle cx="290.2" cy="1932.2" r="4.3" fill="#e27b77"/>
<circle cx="290.9" cy="1932.1" r="4.3" fill="#e27b77"/>
<circle cx="291.5" cy="1932.0" r="4.3" fill="#e27b77"/>
<circle cx="292.2" cy="1931.9" r="4.3" fill="#e27b77"/>
<circle cx="292.8" cy="1931.8" r="4.3" fill="#e27b77"/>
<circle cx="293.5" cy="1931.7" r="4.3" fill="#e27b77"/>
<circle cx="294.1" cy="1931.7" r="4.3" fill="#e27b77"/>
<circle cx="294.8" cy="1931.6" r="4.3" fill="#e27b77"/>
<circle cx="295.4" cy="1931.5" r="4.3" fill="#e27b77"/>
<circle cx="296.1" cy="1931.4" r="4.3" fill="#e27b77"/>
<circle cx="296.7" cy="1931.3" r="4.3" fill="#e27b77"/>
<circle cx="297.4" cy="1931.2" r="4.3" fill="#e27b77"/>
<circle cx="298.0" cy="1931.1" r="4.3" fill="#e27b77"/>
<circle cx="298.7" cy="1931.0" r="4.3" fill="#e27b77"/>
<circle cx="299.3" cy="1930.9" r="4.3" fill="#e27b77"/>
<circle cx="300.0" cy="1930.8" r="4.3" fill="#e27b77"/>
<circle cx="300.6" cy="1930.7" r="4.3" fill="#e27b77"/>
<circle cx="301.3" cy="1930.7" r="4.3" fill="#e27b77"/>
<circle cx="301.9" cy="1930.6" r="4.3" fill="#e27b77"/>
<circle cx="302.6" cy="1930.5" r="4.3" fill="#e27b77"/>
<circle cx="303.2" cy="1930.4" r="4.3" fill="#e27b77"/>
<circle cx="303.9" cy="1930.3" r="4.3" fill="#e27b77"/>
<circle cx="304.5" cy="1930.2" r="4.3" fill="#e27b77"/>
<circle cx="305.2" cy="1930.1" r="4.3" fill="#e27b77"/>
<circle cx="305.8" cy="1930.0" r="4.3" fill="#e27b77"/>
<circle cx="306.4" cy="1929.9" r="4.3" fill="#e27b77"/>
<circle cx="307.1" cy="1929.8" r="4.3" fill="#e27b77"/>
<circle cx="307.7" cy="1929.7" r="4.3" fill="#e27b77"/>
<circle cx="308.4" cy="1929.6" r="4.3" fill="#e27b77"/>
<circle cx="309.0" cy="1929.5" r="4.3" fill="#e27b77"/>
<circle cx="309.7" cy="1929.3" r="4.3" fill="#e27b77"/>
<circle cx="310.3" cy="1929.2" r="4.3" fill="#e27b77"/>
<circle cx="311.0" cy="1929.1" r="4.3" fill="#e27b77"/>
<circle cx="311.6" cy="1928.9" r="4.3" fill="#e27b77"/>
<circle cx="312.3" cy="1928.8" r="4.3" fill="#e27b77"/>
<circle cx="312.9" cy="1928.7" r="4.3" fill="#e27b77"/>
<circle cx="313.6" cy="1928.5" r="4.3" fill="#e27b77"/>
<circle cx="314.2" cy="1928.4" r="4.3" fill="#e27b77"/>
<circle cx="314.9" cy="1928.3" r="4.3" fill="#e27b77"/>
<circle cx="315.5" cy="1928.2" r="4.3" fill="#e27b77"/>
<circle cx="316.2" cy="1928.0" r="4.3" fill="#e27b77"/>
<circle cx="316.8" cy="1927.9" r="4.3" fill="#e27b77"/>
<circle cx="317.5" cy="1927.8" r="4.3" fill="#e27b77"/>
<circle cx="318.1" cy="1927.6" r="4.3" fill="#e27b77"/>
<circle cx="318.8" cy="1927.5" r="4.3" fill="#e27b77"/>
<circle cx="319.4" cy="1927.4" r="4.3" fill="#e27b77"/>
<circle cx="320.1" cy="1927.2" r="4.3" fill="#e27b77"/>
<circle cx="320.7" cy="1927.1" r="4.3" fill="#e27b77"/>
<circle cx="321.4" cy="1927.0" r="4.3" fill="#e27b77"/>
<circle cx="322.0" cy="1926.8" r="4.3" fill="#e27b77"/>
<circle cx="322.7" cy="1926.7" r="4.3" fill="#e27b77"/>
<circle cx="323.3" cy="1926.6" r="4.3" fill="#e27b77"/>
<circle cx="324.0" cy="1926.4" r="4.3" fill="#e27b77"/>
<circle cx="324.6" cy="1926.3" r="4.3" fill="#e27b77"/>
<circle cx="325.3" cy="1926.2" r="4.3" fill="#e27b77"/>
<circle cx="325.9" cy="1926.1" r="4.3" fill="#e27b77"/>
<circle cx="326.5" cy="1925.9" r="4.3" fill="#e27b77"/>
<circle cx="327.2" cy="1925.8" r="4.3" fill="#e27b77"/>
<circle cx="327.8" cy="1925.7" r="4.3" fill="#e27b77"/>
<circle cx="328.5" cy="1925.5" r="4.3" fill="#e27b77"/>
<circle cx="329.1" cy="1925.4" r="4.3" fill="#e27b77"/>
<circle cx="329.8" cy="1925.3" r="4.3" fill="#e27b77"/>
<circle cx="330.4" cy="1925.1" r="4.3" fill="#e27b77"/>
<circle cx="331.1" cy="1925.0" r="4.3" fill="#e27b77"/>
<circle cx="331.7" cy="1924.9" r="4.3" fill="#e27b77"/>
<circle cx="332.4" cy="1924.7" r="4.3" fill="#e27b77"/>
<circle cx="333.0" cy="1924.6" r="4.3" fill="#e27b77"/>
<circle cx="333.7" cy="1924.5" r="4.3" fill="#e27b77"/>
<circle cx="334.3" cy="1924.3" r="4.3" fill="#e27b77"/>
<circle cx="335.0" cy="1924.2" r="4.3" fill="#e27b77"/>
<circle cx="335.6" cy="1924.1" r="4.3" fill="#e27b77"/>
<circle cx="336.3" cy="1924.0" r="4.3" fill="#e27b77"/>
<circle cx="336.9" cy="1923.8" r="4.3" fill="#e27b77"/>
<circle cx="337.6" cy="1923.7" r="4.3" fill="#e27b77"/>
<circle cx="338.2" cy="1923.6" r="4.3" fill="#e27b77"/>
<circle cx="338.9" cy="1923.4" r="4.3" fill="#e27b77"/>
<circle cx="339.5" cy="1923.2" r="4.3" fill="#e27b77"/>
<circle cx="340.2" cy="1923.0" r="4.3" fill="#e27b77"/>
<circle cx="340.8" cy="1922.8" r="4.3" fill="#e27b77"/>
<circle cx="341.5" cy="1922.5" r="4.3" fill="#e27b77"/>
<circle cx="342.1" cy="1922.3" r="4.3" fill="#e27b77"/>
<circle cx="342.8" cy="1922.1" r="4.3" fill="#e27b77"/>
<circle cx="343.4" cy="1921.9" r="4.3" fill="#e27b77"/>
<circle cx="344.1" cy="1921.7" r="4.3" fill="#e27b77"/>
<circle cx="344.7" cy="1921.5" r="4.3" fill="#e27b77"/>
<circle cx="345.4" cy="1921.3" r="4.3" fill="#e27b77"/>
<circle cx="346.0" cy="1921.1" r="4.3" fill="#e27b77"/>
<circle cx="346.6" cy="1920.9" r="4.3" fill="#e27b77"/>
<circle cx="347.3" cy="1920.7" r="4.3" fill="#e27b77"/>
<circle cx="347.9" cy="1920.5" r="4.3" fill="#e27b77"/>
<circle cx="348.6" cy="1920.3" r="4.3" fill="#e27b77"/>
<circle cx="349.2" cy="1920.0" r="4.3" fill="#e27b77"/>
<circle cx="349.9" cy="1919.8" r="4.3" fill="#e27b77"/>
<circle cx="350.5" cy="1919.6" r="4.3" fill="#e27b77"/>
<circle cx="351.2" cy="1919.4" r="4.3" fill="#e27b77"/>
<circle cx="351.8" cy="1919.2" r="4.3" fill="#e27b77"/>
<circle cx="352.5" cy="1919.0" r="4.3" fill="#e27b77"/>
<circle cx="353.1" cy="1918.8" r="4.3" fill="#e27b77"/>
<circle cx="353.8" cy="1918.6" r="4.3" fill="#e27b77"/>
<circle cx="354.4" cy="1918.4" r="4.3" fill="#e27b77"/>
<circle cx="355.1" cy="1918.2" r="4.3" fill="#e27b77"/>
<circle cx="355.7" cy="1918.0" r="4.3" fill="#e27b77"/>
<circle cx="356.4" cy="1917.8" r="4.3" fill="#e27b77"/>
<circle cx="357.0" cy="1917.5" r="4.3" fill="#e27b77"/>
<circle cx="357.7" cy="1917.3" r="4.3" fill="#e27b77"/>
<circle cx="358.3" cy="1917.1" r="4.3" fill="#e27b77"/>
<circle cx="359.0" cy="1916.9" r="4.3" fill="#e27b77"/>
<circle cx="359.6" cy="1916.7" r="4.3" fill="#e27b77"/>
<circle cx="360.3" cy="1916.5" r="4.3" fill="#e27b77"/>
<circle cx="360.9" cy="1916.3" r="4.3" fill="#e27b77"/>
<circle cx="361.6" cy="1916.1" r="4.3" fill="#e27b77"/>
<circle cx="362.2" cy="1915.9" r="4.3" fill="#e27b77"/>
<circle cx="362.9" cy="1915.7" r="4.3" fill="#e27b77"/>
<circle cx="363.5" cy="1915.5" r="4.3" fill="#e27b77"/>
<circle cx="364.2" cy="1915.3" r="4.3" fill="#e27b77"/>
<circle cx="364.8" cy="1915.0" r="4.3" fill="#e27b77"/>
<circle cx="365.5" cy="1914.8" r="4.3" fill="#e27b77"/>
<circle cx="366.1" cy="1914.6" r="4.3" fill="#e27b77"/>
<circle cx="366.7" cy="1914.4" r="4.3" fill="#e27b77"/>
<circle cx="367.4" cy="1914.2" r="4.3" fill="#e27b77"/>
<circle cx="368.0" cy="1914.0" r="4.3" fill="#e27b77"/>
<circle cx="368.7" cy="1913.8" r="4.3" fill="#e27b77"/>
<circle cx="369.3" cy="1913.6" r="4.3" fill="#e27b77"/>
<circle cx="370.0" cy="1913.3" r="4.3" fill="#e27b77"/>
<circle cx="370.6" cy="1913.0" r="4.3" fill="#e27b77"/>
<circle cx="371.3" cy="1912.7" r="4.3" fill="#e27b77"/>
<circle cx="371.9" cy="1912.4" r="4.3" fill="#e27b77"/>
<circle cx="372.6" cy="1912.1" r="4.3" fill="#e27b77"/>
<circle cx="373.2" cy="1911.8" r="4.3" fill="#e27b77"/>
<circle cx="373.9" cy="1911.4" r="4.3" fill="#e27b77"/>
<circle cx="374.5" cy="1911.1" r="4.3" fill="#e27b77"/>
<circle cx="375.2" cy="1910.8" r="4.3" fill="#e27b77"/>
<circle cx="375.8" cy="1910.5" r="4.3" fill="#e27b77"/>
<circle cx="376.5" cy="1910.2" r="4.3" fill="#e27b77"/>
<circle cx="377.1" cy="1909.9" r="4.3" fill="#e27b77"/>
<circle cx="377.8" cy="1909.6" r="4.3" fill="#e27b77"/>
<circle cx="378.4" cy="1909.3" r="4.3" fill="#e27b77"/>
<circle cx="379.1" cy="1908.9" r="4.3" fill="#e27b77"/>
<circle cx="379.7" cy="1908.6" r="4.3" fill="#e27b77"/>
<circle cx="380.4" cy="1908.4" r="4.3" fill="#e27b77"/>
<circle cx="381.0" cy="1908.2" r="4.3" fill="#e27b77"/>
<circle cx="381.7" cy="1908.0" r="4.3" fill="#e27b77"/>
<circle cx="382.3" cy="1907.8" r="4.3" fill="#e27b77"/>
<circle cx="383.0" cy="1907.6" r="4.3" fill="#e27b77"/>
<circle cx="383.6" cy="1907.4" r="4.3" fill="#e27b77"/>
<circle cx="384.3" cy="1907.2" r="4.3" fill="#e27b77"/>
<circle cx="384.9" cy="1907.1" r="4.3" fill="#e27b77"/>
<circle cx="385.6" cy="1906.9" r="4.3" fill="#e27b77"/>
<circle cx="386.2" cy="1906.7" r="4.3" fill="#e27b77"/>
<circle cx="386.8" cy="1906.5" r="4.3" fill="#e27b77"/>
<circle cx="387.5" cy="1906.3" r="4.3" fill="#e27b77"/>
<circle cx="388.1" cy="1906.1" r="4.3" fill="#e27b77"/>
<circle cx="388.8" cy="1905.9" r="4.3" fill="#e27b77"/>
<circle cx="389.4" cy="1905.7" r="4.3" fill="#e27b77"/>
<circle cx="390.1" cy="1905.5" r="4.3" fill="#e27b77"/>
<circle cx="390.7" cy="1905.3" r="4.3" fill="#e27b77"/>
<circle cx="391.4" cy="1905.1" r="4.3" fill="#e27b77"/>
<circle cx="392.0" cy="1904.9" r="4.3" fill="#e27b77"/>
<circle cx="392.7" cy="1904.8" r="4.3" fill="#e27b77"/>
<circle cx="393.3" cy="1904.6" r="4.3" fill="#e27b77"/>
<circle cx="394.0" cy="1904.4" r="4.3" fill="#e27b77"/>
<circle cx="394.6" cy="1904.2" r="4.3" fill="#e27b77"/>
<circle cx="395.3" cy="1904.0" r="4.3" fill="#e27b77"/>
<circle cx="395.9" cy="1903.8" r="4.3" fill="#e27b77"/>
<circle cx="396.6" cy="1903.6" r="4.3" fill="#e27b77"/>
<circle cx="397.2" cy="1903.4" r="4.3" fill="#e27b77"/>
<circle cx="397.9" cy="1903.2" r="4.3" fill="#e27b77"/>
<circle cx="398.5" cy="1903.0" r="4.3" fill="#e27b77"/>
<circle cx="399.2" cy="1902.8" r="4.3" fill="#e27b77"/>
<circle cx="399.8" cy="1902.6" r="4.3" fill="#e27b77"/>
<circle cx="400.5" cy="1902.5" r="4.3" fill="#e27b77"/>
<circle cx="401.1" cy="1902.3" r="4.3" fill="#e27b77"/>
<circle cx="401.8" cy="1902.1" r="4.3" fill="#e27b77"/>
<circle cx="402.4" cy="1901.9" r="4.3" fill="#e27b77"/>
<circle cx="403.1" cy="1901.7" r="4.3" fill="#e27b77"/>
<circle cx="403.7" cy="1901.5" r="4.3" fill="#e27b77"/>
<circle cx="404.4" cy="1901.1" r="4.3" fill="#e27b77"/>
<circle cx="405.0" cy="1900.6" r="4.3" fill="#e27b77"/>
<circle cx="405.7" cy="1900.2" r="4.3" fill="#e27b77"/>
<circle cx="406.3" cy="1899.8" r="4.3" fill="#e27b77"/>
<circle cx="406.9" cy="1899.3" r="4.3" fill="#e27b77"/>
<circle cx="407.6" cy="1898.9" r="4.3" fill="#e27b77"/>
<circle cx="408.2" cy="1898.5" r="4.3" fill="#e27b77"/>
<circle cx="408.9" cy="1898.1" r="4.3" fill="#e27b77"/>
<circle cx="409.5" cy="1897.6" r="4.3" fill="#e27b77"/>
<circle cx="410.2" cy="1897.2" r="4.3" fill="#e27b77"/>
<circle cx="410.8" cy="1896.8" r="4.3" fill="#e27b77"/>
<circle cx="411.5" cy="1896.3" r="4.3" fill="#e27b77"/>
<circle cx="412.1" cy="1895.9" r="4.3" fill="#e27b77"/>
<circle cx="412.8" cy="1895.5" r="4.3" fill="#e27b77"/>
<circle cx="413.4" cy="1895.0" r="4.3" fill="#e27b77"/>
<circle cx="414.1" cy="1894.6" r="4.3" fill="#e27b77"/>
<circle cx="414.7" cy="1894.2" r="4.3" fill="#e27b77"/>
<circle cx="415.4" cy="1893.7" r="4.3" fill="#e27b77"/>
<circle cx="416.0" cy="1893.2" r="4.3" fill="#e27b77"/>
<circle cx="416.7" cy="1892.6" r="4.3" fill="#e27b77"/>
<circle cx="417.3" cy="1892.1" r="4.3" fill="#e27b77"/>
<circle cx="418.0" cy="1891.6" r="4.3" fill="#e27b77"/>
<circle cx="418.6" cy="1891.1" r="4.3" fill="#e27b77"/>
<circle cx="419.3" cy="1890.5" r="4.3" fill="#e27b77"/>
<circle cx="419.9" cy="1890.0" r="4.3" fill="#e27b77"/>
<circle cx="420.6" cy="1889.5" r="4.3" fill="#e27b77"/>
<circle cx="421.2" cy="1889.0" r="4.3" fill="#e27b77"/>
<circle cx="421.9" cy="1888.3" r="4.3" fill="#e27b77"/>
<circle cx="422.5" cy="1887.7" r="4.3" fill="#e27b77"/>
<circle cx="423.2" cy="1887.0" r="4.3" fill="#e27b77"/>
<circle cx="423.8" cy="1886.3" r="4.3" fill="#e27b77"/>
<circle cx="424.5" cy="1885.7" r="4.3" fill="#e27b77"/>
<circle cx="425.1" cy="1885.0" r="4.3" fill="#e27b77"/>
<circle cx="425.8" cy="1884.3" r="4.3" fill="#e27b77"/>
<circle cx="426.4" cy="1883.6" r="4.3" fill="#e27b77"/>
<circle cx="427.0" cy="1883.0" r="4.3" fill="#e27b77"/>
<circle cx="427.7" cy="1882.3" r="4.3" fill="#e27b77"/>
<circle cx="428.3" cy="1881.6" r="4.3" fill="#e27b77"/>
<circle cx="429.0" cy="1880.9" r="4.3" fill="#e27b77"/>
<circle cx="429.6" cy="1880.3" r="4.3" fill="#e27b77"/>
<circle cx="430.3" cy="1879.6" r="4.3" fill="#e27b77"/>
<circle cx="430.9" cy="1878.9" r="4.3" fill="#e27b77"/>
<circle cx="431.6" cy="1878.2" r="4.3" fill="#e27b77"/>
<circle cx="432.2" cy="1877.5" r="4.3" fill="#e27b77"/>
<circle cx="432.9" cy="1876.8" r="4.3" fill="#e27b77"/>
<circle cx="433.5" cy="1875.9" r="4.3" fill="#e27b77"/>
<circle cx="434.2" cy="1874.6" r="4.3" fill="#e27b77"/>
<circle cx="434.8" cy="1873.3" r="4.3" fill="#e27b77"/>
<circle cx="435.5" cy="1872.1" r="4.3" fill="#e27b77"/>
<circle cx="436.1" cy="1870.8" r="4.3" fill="#e27b77"/>
<circle cx="436.8" cy="1869.5" r="4.3" fill="#e27b77"/>
<circle cx="437.4" cy="1868.3" r="4.3" fill="#e27b77"/>
<circle cx="438.1" cy="1867.0" r="4.3" fill="#e27b77"/>
<circle cx="438.7" cy="1865.7" r="4.3" fill="#e27b77"/>
<circle cx="439.4" cy="1863.7" r="4.3" fill="#e27b77"/>
<circle cx="440.0" cy="1860.5" r="4.3" fill="#e27b77"/>
<circle cx="440.7" cy="1857.4" r="4.3" fill="#e27b77"/>
<circle cx="441.3" cy="1854.2" r="4.3" fill="#e27b77"/>
<circle cx="442.0" cy="1850.8" r="4.3" fill="#e27b77"/>
<circle cx="442.6" cy="1847.3" r="4.3" fill="#e27b77"/>
<circle cx="443.3" cy="1843.8" r="4.3" fill="#e27b77"/>
<circle cx="443.9" cy="1840.3" r="4.3" fill="#e27b77"/>
<circle cx="444.6" cy="1836.7" r="4.3" fill="#e27b77"/>
<circle cx="445.2" cy="1833.2" r="4.3" fill="#e27b77"/>
<circle cx="445.9" cy="1830.2" r="4.3" fill="#e27b77"/>
<circle cx="446.5" cy="1828.0" r="4.3" fill="#e27b77"/>
<circle cx="447.4" cy="1794.8" r="3.8" fill="#e27b77"/>
<circle cx="447.4" cy="1784.4" r="3.8" fill="#e27b77"/>
<circle cx="448.0" cy="1744.4" r="3.8" fill="#e27b77"/>
<circle cx="448.6" cy="1684.3" r="3.8" fill="#e27b77"/>
</g>
<g>
<circle cx="107.2" cy="2285.8" r="4.0" fill="#4a6fb0"/>
<circle cx="107.7" cy="2181.8" r="4.0" fill="#4a6fb0"/>
<circle cx="107.7" cy="2206.0" r="4.0" fill="#4a6fb0"/>
<circle cx="107.7" cy="2232.8" r="4.0" fill="#4a6fb0"/>
<circle cx="107.7" cy="2244.3" r="4.0" fill="#4a6fb0"/>
<circle cx="107.7" cy="2262.9" r="4.0" fill="#4a6fb0"/>
<circle cx="109.6" cy="2193.3" r="4.0" fill="#4a6fb0"/>
<circle cx="110.2" cy="2179.2" r="4.0" fill="#4a6fb0"/>
<circle cx="110.2" cy="2255.8" r="4.0" fill="#4a6fb0"/>
<circle cx="110.2" cy="2298.0" r="4.0" fill="#4a6fb0"/>
<circle cx="111.2" cy="2250.7" r="4.0" fill="#4a6fb0"/>
<circle cx="111.5" cy="2227.7" r="4.0" fill="#4a6fb0"/>
<circle cx="112.8" cy="2269.9" r="4.0" fill="#4a6fb0"/>
<circle cx="112.8" cy="2278.8" r="4.0" fill="#4a6fb0"/>
<circle cx="114.0" cy="2240.2" r="4.0" fill="#4a6fb0"/>
<circle cx="114.0" cy="2287.8" r="4.0" fill="#4a6fb0"/>
<circle cx="114.7" cy="2215.0" r="4.0" fill="#4a6fb0"/>
<circle cx="115.3" cy="2254.6" r="4.0" fill="#4a6fb0"/>
<circle cx="117.2" cy="2196.4" r="4.0" fill="#4a6fb0"/>
<circle cx="117.9" cy="2155.0" r="4.0" fill="#4a6fb0"/>
<circle cx="118.5" cy="2223.9" r="4.0" fill="#4a6fb0"/>
<circle cx="119.2" cy="2259.7" r="4.0" fill="#e27b77"/>
<circle cx="119.2" cy="2268.6" r="4.0" fill="#4a6fb0"/>
<circle cx="119.2" cy="2278.8" r="4.0" fill="#4a6fb0"/>
<circle cx="120.4" cy="2151.1" r="4.0" fill="#4a6fb0"/>
<circle cx="120.4" cy="2292.9" r="4.0" fill="#e27b77"/>
<circle cx="121.3" cy="2248.8" r="4.0" fill="#4a6fb0"/>
<circle cx="122.4" cy="2206.0" r="4.0" fill="#4a6fb0"/>
<circle cx="124.3" cy="2273.7" r="4.0" fill="#4a6fb0"/>
<circle cx="125.5" cy="2282.7" r="4.0" fill="#4a6fb0"/>
<circle cx="126.2" cy="2136.4" r="4.0" fill="#4a6fb0"/>
<circle cx="126.8" cy="2257.1" r="4.0" fill="#4a6fb0"/>
<circle cx="127.5" cy="2177.9" r="4.0" fill="#4a6fb0"/>
<circle cx="128.7" cy="2250.7" r="4.0" fill="#4a6fb0"/>
<circle cx="129.4" cy="2188.1" r="4.0" fill="#4a6fb0"/>
<circle cx="129.4" cy="2202.2" r="4.0" fill="#4a6fb0"/>
<circle cx="129.4" cy="2298.0" r="4.0" fill="#4a6fb0"/>
<circle cx="131.8" cy="2287.4" r="4.0" fill="#4a6fb0"/>
<circle cx="131.9" cy="2240.5" r="4.0" fill="#4a6fb0"/>
<circle cx="131.9" cy="2273.7" r="4.0" fill="#e27b77"/>
<circle cx="132.1" cy="2279.4" r="4.0" fill="#4a6fb0"/>
<circle cx="132.1" cy="2264.0" r="4.0" fill="#4a6fb0"/>
<circle cx="133.2" cy="2297.3" r="4.0" fill="#4a6fb0"/>
<circle cx="133.8" cy="2269.9" r="4.0" fill="#4a6fb0"/>
<circle cx="134.5" cy="2188.1" r="4.0" fill="#4a6fb0"/>
<circle cx="135.2" cy="2247.7" r="4.0" fill="#4a6fb0"/>
<circle cx="137.0" cy="2231.6" r="4.0" fill="#4a6fb0"/>
<circle cx="137.7" cy="2252.6" r="4.0" fill="#4a6fb0"/>
<circle cx="137.8" cy="2282.9" r="4.0" fill="#4a6fb0"/>
<circle cx="138.3" cy="2241.2" r="4.0" fill="#4a6fb0"/>
<circle cx="138.3" cy="2259.7" r="4.0" fill="#4a6fb0"/>
<circle cx="139.6" cy="2293.3" r="4.0" fill="#4a6fb0"/>
<circle cx="140.9" cy="2235.4" r="4.0" fill="#4a6fb0"/>
<circle cx="140.9" cy="2264.8" r="4.0" fill="#4a6fb0"/>
<circle cx="142.0" cy="2273.6" r="4.0" fill="#4a6fb0"/>
<circle cx="143.4" cy="2298.0" r="4.0" fill="#4a6fb0"/>
<circle cx="144.1" cy="2241.8" r="4.0" fill="#4a6fb0"/>
<circle cx="144.7" cy="2268.6" r="4.0" fill="#4a6fb0"/>
<circle cx="144.7" cy="2282.7" r="4.0" fill="#e27b77"/>
<circle cx="145.3" cy="2197.1" r="4.0" fill="#4a6fb0"/>
<circle cx="147.9" cy="2218.2" r="4.0" fill="#4a6fb0"/>
<circle cx="147.9" cy="2222.6" r="4.0" fill="#4a6fb0"/>
<circle cx="148.5" cy="2186.9" r="4.0" fill="#4a6fb0"/>
<circle cx="149.8" cy="2247.2" r="4.0" fill="#4a6fb0"/>
<circle cx="151.1" cy="2195.8" r="4.0" fill="#4a6fb0"/>
<circle cx="151.1" cy="2272.4" r="4.0" fill="#4a6fb0"/>
<circle cx="151.7" cy="2208.6" r="4.0" fill="#4a6fb0"/>
<circle cx="151.7" cy="2261.0" r="4.0" fill="#4a6fb0"/>
<circle cx="153.0" cy="2252.0" r="4.0" fill="#4a6fb0"/>
<circle cx="153.6" cy="2176.7" r="4.0" fill="#4a6fb0"/>
<circle cx="154.3" cy="2141.5" r="4.0" fill="#4a6fb0"/>
<circle cx="154.9" cy="2283.9" r="4.0" fill="#4a6fb0"/>
<circle cx="155.0" cy="2268.2" r="4.0" fill="#4a6fb0"/>
<circle cx="155.4" cy="2291.2" r="4.0" fill="#4a6fb0"/>
<circle cx="156.2" cy="2273.7" r="4.0" fill="#4a6fb0"/>
<circle cx="156.2" cy="2298.0" r="4.0" fill="#4a6fb0"/>
<circle cx="157.5" cy="2195.8" r="4.0" fill="#4a6fb0"/>
<circle cx="158.7" cy="2198.4" r="4.0" fill="#4a6fb0"/>
<circle cx="158.7" cy="2237.3" r="4.0" fill="#4a6fb0"/>
<circle cx="159.7" cy="2260.3" r="4.0" fill="#4a6fb0"/>
<circle cx="160.0" cy="2285.2" r="4.0" fill="#4a6fb0"/>
<circle cx="160.0" cy="2297.3" r="4.0" fill="#4a6fb0"/>
<circle cx="160.9" cy="2252.3" r="4.0" fill="#e27b77"/>
<circle cx="161.3" cy="2218.8" r="4.0" fill="#4a6fb0"/>
<circle cx="161.3" cy="2273.7" r="4.0" fill="#4a6fb0"/>
<circle cx="161.3" cy="2290.3" r="4.0" fill="#4a6fb0"/>
<circle cx="162.3" cy="2207.3" r="4.0" fill="#e27b77"/>
<circle cx="162.6" cy="2282.7" r="4.0" fill="#4a6fb0"/>
<circle cx="164.5" cy="2264.8" r="4.0" fill="#4a6fb0"/>
<circle cx="164.8" cy="2256.8" r="4.0" fill="#4a6fb0"/>
<circle cx="165.1" cy="2238.6" r="4.0" fill="#4a6fb0"/>
<circle cx="165.8" cy="2199.0" r="4.0" fill="#4a6fb0"/>
<circle cx="167.7" cy="2191.3" r="4.0" fill="#4a6fb0"/>
<circle cx="168.3" cy="2066.2" r="4.0" fill="#4a6fb0"/>
<circle cx="168.4" cy="2278.3" r="4.0" fill="#4a6fb0"/>
<circle cx="169.0" cy="2266.1" r="4.0" fill="#4a6fb0"/>
<circle cx="169.6" cy="2222.6" r="4.0" fill="#e27b77"/>
<circle cx="169.6" cy="2253.3" r="4.0" fill="#e27b77"/>
<circle cx="172.8" cy="2264.8" r="4.0" fill="#e27b77"/>
<circle cx="174.1" cy="2222.6" r="4.0" fill="#4a6fb0"/>
<circle cx="174.9" cy="2246.3" r="4.0" fill="#4a6fb0"/>
<circle cx="175.4" cy="2254.6" r="4.0" fill="#4a6fb0"/>
<circle cx="176.6" cy="2208.6" r="4.0" fill="#4a6fb0"/>
<circle cx="176.8" cy="2292.3" r="4.0" fill="#e27b77"/>
<circle cx="177.9" cy="2269.9" r="4.0" fill="#4a6fb0"/>
<circle cx="177.9" cy="2283.9" r="4.0" fill="#4a6fb0"/>
<circle cx="179.2" cy="2275.0" r="4.0" fill="#e27b77"/>
<circle cx="179.9" cy="2251.6" r="4.0" fill="#4a6fb0"/>
<circle cx="179.9" cy="2263.4" r="4.0" fill="#4a6fb0"/>
<circle cx="180.5" cy="2190.1" r="4.0" fill="#4a6fb0"/>
<circle cx="181.7" cy="2211.8" r="4.0" fill="#4a6fb0"/>
<circle cx="181.7" cy="2299.3" r="4.0" fill="#4a6fb0"/>
<circle cx="183.0" cy="2268.6" r="4.0" fill="#4a6fb0"/>
<circle cx="183.0" cy="2287.8" r="4.0" fill="#4a6fb0"/>
<circle cx="184.3" cy="2254.6" r="4.0" fill="#4a6fb0"/>
<circle cx="184.3" cy="2281.7" r="4.0" fill="#4a6fb0"/>
<circle cx="184.9" cy="2230.9" r="4.0" fill="#4a6fb0"/>
<circle cx="185.7" cy="2261.5" r="4.0" fill="#4a6fb0"/>
<circle cx="186.2" cy="2206.7" r="4.0" fill="#4a6fb0"/>
<circle cx="186.8" cy="2294.1" r="4.0" fill="#4a6fb0"/>
<circle cx="187.7" cy="2245.3" r="4.0" fill="#4a6fb0"/>
<circle cx="188.1" cy="2267.3" r="4.0" fill="#4a6fb0"/>
<circle cx="188.5" cy="2272.6" r="4.0" fill="#4a6fb0"/>
<circle cx="188.5" cy="2285.1" r="4.0" fill="#4a6fb0"/>
<circle cx="189.4" cy="2220.1" r="4.0" fill="#4a6fb0"/>
<circle cx="192.0" cy="2223.9" r="4.0" fill="#4a6fb0"/>
<circle cx="192.0" cy="2250.7" r="4.0" fill="#4a6fb0"/>
<circle cx="193.1" cy="2277.9" r="4.0" fill="#4a6fb0"/>
<circle cx="193.2" cy="2268.6" r="4.0" fill="#4a6fb0"/>
<circle cx="195.0" cy="2261.0" r="4.0" fill="#4a6fb0"/>
<circle cx="195.1" cy="2298.0" r="4.0" fill="#4a6fb0"/>
<circle cx="195.3" cy="2282.8" r="4.0" fill="#4a6fb0"/>
<circle cx="196.3" cy="2249.4" r="4.0" fill="#4a6fb0"/>
<circle cx="197.0" cy="2178.6" r="4.0" fill="#4a6fb0"/>
<circle cx="197.1" cy="2269.9" r="4.0" fill="#4a6fb0"/>
<circle cx="197.6" cy="2275.0" r="4.0" fill="#4a6fb0"/>
<circle cx="197.6" cy="2296.7" r="4.0" fill="#4a6fb0"/>
<circle cx="198.3" cy="2200.3" r="4.0" fill="#4a6fb0"/>
<circle cx="198.3" cy="2254.6" r="4.0" fill="#4a6fb0"/>
<circle cx="199.0" cy="2235.4" r="4.0" fill="#4a6fb0"/>
<circle cx="201.4" cy="2296.7" r="4.0" fill="#4a6fb0"/>
<circle cx="202.7" cy="2238.6" r="4.0" fill="#4a6fb0"/>
<circle cx="202.7" cy="2262.2" r="4.0" fill="#e27b77"/>
<circle cx="203.3" cy="2156.9" r="4.0" fill="#e27b77"/>
<circle cx="203.9" cy="2276.3" r="4.0" fill="#4a6fb0"/>
<circle cx="205.9" cy="2204.1" r="4.0" fill="#4a6fb0"/>
<circle cx="206.5" cy="2267.3" r="4.0" fill="#e27b77"/>
<circle cx="206.5" cy="2285.2" r="4.0" fill="#e27b77"/>
<circle cx="207.8" cy="2240.5" r="4.0" fill="#4a6fb0"/>
<circle cx="207.8" cy="2272.4" r="4.0" fill="#e27b77"/>
<circle cx="208.9" cy="2253.1" r="4.0" fill="#4a6fb0"/>
<circle cx="209.0" cy="2160.7" r="4.0" fill="#4a6fb0"/>
<circle cx="209.0" cy="2224.5" r="4.0" fill="#e27b77"/>
<circle cx="210.3" cy="2295.4" r="4.0" fill="#e27b77"/>
<circle cx="211.0" cy="2218.2" r="4.0" fill="#4a6fb0"/>
<circle cx="211.6" cy="2261.0" r="4.0" fill="#4a6fb0"/>
<circle cx="212.9" cy="2236.7" r="4.0" fill="#4a6fb0"/>
<circle cx="212.9" cy="2280.1" r="4.0" fill="#4a6fb0"/>
<circle cx="214.2" cy="2249.4" r="4.0" fill="#e27b77"/>
<circle cx="214.2" cy="2257.1" r="4.0" fill="#e27b77"/>
<circle cx="214.8" cy="2200.9" r="4.0" fill="#4a6fb0"/>
<circle cx="215.4" cy="2267.3" r="4.0" fill="#4a6fb0"/>
<circle cx="218.0" cy="2213.0" r="4.0" fill="#4a6fb0"/>
<circle cx="218.0" cy="2271.2" r="4.0" fill="#4a6fb0"/>
<circle cx="219.5" cy="2286.6" r="4.0" fill="#4a6fb0"/>
<circle cx="220.5" cy="2255.8" r="4.0" fill="#4a6fb0"/>
<circle cx="220.5" cy="2280.1" r="4.0" fill="#4a6fb0"/>
<circle cx="221.2" cy="2239.2" r="4.0" fill="#e27b77"/>
<circle cx="222.5" cy="2249.4" r="4.0" fill="#4a6fb0"/>
<circle cx="224.4" cy="2259.7" r="4.0" fill="#4a6fb0"/>
<circle cx="224.4" cy="2283.9" r="4.0" fill="#4a6fb0"/>
<circle cx="224.5" cy="2265.3" r="4.0" fill="#e27b77"/>
<circle cx="225.8" cy="2272.1" r="4.0" fill="#4a6fb0"/>
<circle cx="226.3" cy="2241.2" r="4.0" fill="#4a6fb0"/>
<circle cx="226.9" cy="2217.5" r="4.0" fill="#4a6fb0"/>
<circle cx="228.2" cy="2281.4" r="4.0" fill="#4a6fb0"/>
<circle cx="228.8" cy="2213.7" r="4.0" fill="#4a6fb0"/>
<circle cx="229.5" cy="2267.3" r="4.0" fill="#e27b77"/>
<circle cx="229.5" cy="2296.7" r="4.0" fill="#4a6fb0"/>
<circle cx="232.0" cy="2221.4" r="4.0" fill="#4a6fb0"/>
<circle cx="232.0" cy="2272.4" r="4.0" fill="#4a6fb0"/>
<circle cx="233.3" cy="2290.3" r="4.0" fill="#4a6fb0"/>
<circle cx="234.6" cy="2263.5" r="4.0" fill="#4a6fb0"/>
<circle cx="234.6" cy="2300.5" r="4.0" fill="#4a6fb0"/>
<circle cx="235.9" cy="2255.8" r="4.0" fill="#4a6fb0"/>
<circle cx="235.9" cy="2284.6" r="4.0" fill="#4a6fb0"/>
<circle cx="237.1" cy="2127.5" r="4.0" fill="#4a6fb0"/>
<circle cx="237.1" cy="2249.4" r="4.0" fill="#4a6fb0"/>
<circle cx="237.1" cy="2273.7" r="4.0" fill="#4a6fb0"/>
<circle cx="238.6" cy="2278.8" r="4.0" fill="#4a6fb0"/>
<circle cx="239.8" cy="2265.0" r="4.0" fill="#4a6fb0"/>
<circle cx="240.3" cy="2166.4" r="4.0" fill="#4a6fb0"/>
<circle cx="241.0" cy="2257.1" r="4.0" fill="#4a6fb0"/>
<circle cx="241.6" cy="2191.3" r="4.0" fill="#4a6fb0"/>
<circle cx="242.3" cy="2250.7" r="4.0" fill="#4a6fb0"/>
<circle cx="243.5" cy="2272.4" r="4.0" fill="#4a6fb0"/>
<circle cx="244.2" cy="2227.1" r="4.0" fill="#4a6fb0"/>
<circle cx="245.4" cy="2196.4" r="4.0" fill="#4a6fb0"/>
<circle cx="245.7" cy="2285.7" r="4.0" fill="#4a6fb0"/>
<circle cx="246.7" cy="2292.9" r="4.0" fill="#4a6fb0"/>
<circle cx="247.4" cy="2239.9" r="4.0" fill="#4a6fb0"/>
<circle cx="247.4" cy="2249.4" r="4.0" fill="#4a6fb0"/>
<circle cx="248.6" cy="2273.7" r="4.0" fill="#4a6fb0"/>
<circle cx="249.1" cy="2262.3" r="4.0" fill="#4a6fb0"/>
<circle cx="249.9" cy="2257.1" r="4.0" fill="#4a6fb0"/>
<circle cx="250.9" cy="2268.2" r="4.0" fill="#4a6fb0"/>
<circle cx="251.2" cy="2230.3" r="4.0" fill="#4a6fb0"/>
<circle cx="253.7" cy="2249.4" r="4.0" fill="#e27b77"/>
<circle cx="253.7" cy="2273.7" r="4.0" fill="#4a6fb0"/>
<circle cx="255.0" cy="2285.2" r="4.0" fill="#e27b77"/>
<circle cx="256.3" cy="2234.1" r="4.0" fill="#4a6fb0"/>
<circle cx="256.4" cy="2280.0" r="4.0" fill="#4a6fb0"/>
<circle cx="257.6" cy="2144.1" r="4.0" fill="#4a6fb0"/>
<circle cx="257.6" cy="2253.3" r="4.0" fill="#4a6fb0"/>
<circle cx="258.2" cy="2110.9" r="4.0" fill="#4a6fb0"/>
<circle cx="258.9" cy="2275.0" r="4.0" fill="#4a6fb0"/>
<circle cx="258.9" cy="2296.7" r="4.0" fill="#4a6fb0"/>
<circle cx="260.1" cy="2257.1" r="4.0" fill="#4a6fb0"/>
<circle cx="261.4" cy="2224.5" r="4.0" fill="#4a6fb0"/>
<circle cx="262.6" cy="2266.8" r="4.0" fill="#e27b77"/>
<circle cx="262.7" cy="2241.8" r="4.0" fill="#4a6fb0"/>
<circle cx="264.0" cy="2245.0" r="4.0" fill="#4a6fb0"/>
<circle cx="264.0" cy="2276.3" r="4.0" fill="#4a6fb0"/>
<circle cx="264.0" cy="2295.4" r="4.0" fill="#4a6fb0"/>
<circle cx="264.6" cy="2234.1" r="4.0" fill="#4a6fb0"/>
<circle cx="265.2" cy="2207.3" r="4.0" fill="#4a6fb0"/>
<circle cx="265.4" cy="2261.1" r="4.0" fill="#4a6fb0"/>
<circle cx="266.5" cy="2201.6" r="4.0" fill="#4a6fb0"/>
<circle cx="267.7" cy="2290.0" r="4.0" fill="#4a6fb0"/>
<circle cx="269.1" cy="2252.0" r="4.0" fill="#4a6fb0"/>
<circle cx="269.1" cy="2275.0" r="4.0" fill="#4a6fb0"/>
<circle cx="269.1" cy="2298.0" r="4.0" fill="#4a6fb0"/>
<circle cx="269.5" cy="2266.8" r="4.0" fill="#4a6fb0"/>
<circle cx="270.4" cy="2257.1" r="4.0" fill="#e27b77"/>
<circle cx="271.6" cy="2209.2" r="4.0" fill="#4a6fb0"/>
<circle cx="274.2" cy="2229.0" r="4.0" fill="#4a6fb0"/>
<circle cx="274.2" cy="2272.4" r="4.0" fill="#4a6fb0"/>
<circle cx="275.5" cy="2289.0" r="4.0" fill="#4a6fb0"/>
<circle cx="276.5" cy="2262.8" r="4.0" fill="#4a6fb0"/>
<circle cx="276.5" cy="2254.4" r="4.0" fill="#4a6fb0"/>
<circle cx="276.7" cy="2299.3" r="4.0" fill="#4a6fb0"/>
<circle cx="276.8" cy="2278.1" r="4.0" fill="#4a6fb0"/>
<circle cx="278.0" cy="2268.6" r="4.0" fill="#4a6fb0"/>
<circle cx="279.3" cy="2207.3" r="4.0" fill="#4a6fb0"/>
<circle cx="279.9" cy="2243.1" r="4.0" fill="#4a6fb0"/>
<circle cx="281.8" cy="2160.7" r="4.0" fill="#e27b77"/>
<circle cx="281.8" cy="2252.0" r="4.0" fill="#4a6fb0"/>
<circle cx="283.1" cy="2273.7" r="4.0" fill="#4a6fb0"/>
<circle cx="283.1" cy="2289.0" r="4.0" fill="#e27b77"/>
<circle cx="283.3" cy="2268.5" r="4.0" fill="#4a6fb0"/>
<circle cx="284.4" cy="2257.1" r="4.0" fill="#4a6fb0"/>
<circle cx="286.0" cy="2283.7" r="4.0" fill="#4a6fb0"/>
<circle cx="286.3" cy="2240.6" r="4.0" fill="#4a6fb0"/>
<circle cx="287.0" cy="2262.2" r="4.0" fill="#4a6fb0"/>
<circle cx="287.0" cy="2292.9" r="4.0" fill="#e27b77"/>
<circle cx="288.2" cy="2275.0" r="4.0" fill="#4a6fb0"/>
<circle cx="290.0" cy="2272.4" r="4.0" fill="#4a6fb0"/>
<circle cx="290.1" cy="2211.8" r="4.0" fill="#4a6fb0"/>
<circle cx="292.1" cy="2223.9" r="4.0" fill="#4a6fb0"/>
<circle cx="292.1" cy="2257.1" r="4.0" fill="#4a6fb0"/>
<circle cx="292.1" cy="2294.1" r="4.0" fill="#e27b77"/>
<circle cx="292.6" cy="2290.3" r="4.0" fill="#e27b77"/>
<circle cx="292.7" cy="2252.0" r="4.0" fill="#4a6fb0"/>
<circle cx="293.3" cy="2197.7" r="4.0" fill="#4a6fb0"/>
<circle cx="293.3" cy="2275.0" r="4.0" fill="#4a6fb0"/>
<circle cx="293.8" cy="2280.1" r="4.0" fill="#4a6fb0"/>
<circle cx="295.1" cy="2266.1" r="4.0" fill="#4a6fb0"/>
<circle cx="295.7" cy="2249.4" r="4.0" fill="#4a6fb0"/>
<circle cx="296.4" cy="2273.7" r="4.0" fill="#4a6fb0"/>
<circle cx="298.8" cy="2257.3" r="4.0" fill="#4a6fb0"/>
<circle cx="299.6" cy="2250.7" r="4.0" fill="#4a6fb0"/>
<circle cx="300.2" cy="2264.8" r="4.0" fill="#4a6fb0"/>
<circle cx="300.9" cy="2215.0" r="4.0" fill="#4a6fb0"/>
<circle cx="301.7" cy="2290.8" r="4.0" fill="#4a6fb0"/>
<circle cx="302.1" cy="2193.9" r="4.0" fill="#4a6fb0"/>
<circle cx="302.8" cy="2209.9" r="4.0" fill="#4a6fb0"/>
<circle cx="302.8" cy="2275.0" r="4.0" fill="#4a6fb0"/>
<circle cx="302.8" cy="2281.4" r="4.0" fill="#4a6fb0"/>
<circle cx="302.8" cy="2296.7" r="4.0" fill="#4a6fb0"/>
<circle cx="302.9" cy="2242.8" r="4.0" fill="#4a6fb0"/>
<circle cx="304.0" cy="2156.2" r="4.0" fill="#4a6fb0"/>
<circle cx="304.0" cy="2218.8" r="4.0" fill="#4a6fb0"/>
<circle cx="306.0" cy="2222.6" r="4.0" fill="#4a6fb0"/>
<circle cx="306.0" cy="2234.1" r="4.0" fill="#4a6fb0"/>
<circle cx="307.9" cy="2267.3" r="4.0" fill="#4a6fb0"/>
<circle cx="308.5" cy="2240.5" r="4.0" fill="#e27b77"/>
<circle cx="309.2" cy="2258.4" r="4.0" fill="#e27b77"/>
<circle cx="309.2" cy="2272.4" r="4.0" fill="#4a6fb0"/>
<circle cx="309.4" cy="2252.5" r="4.0" fill="#e27b77"/>
<circle cx="309.8" cy="2181.8" r="4.0" fill="#4a6fb0"/>
<circle cx="311.1" cy="2164.5" r="4.0" fill="#e27b77"/>
<circle cx="311.1" cy="2199.0" r="4.0" fill="#4a6fb0"/>
<circle cx="312.5" cy="2284.6" r="4.0" fill="#4a6fb0"/>
<circle cx="313.0" cy="2236.7" r="4.0" fill="#4a6fb0"/>
<circle cx="313.0" cy="2268.6" r="4.0" fill="#4a6fb0"/>
<circle cx="314.0" cy="2262.8" r="4.0" fill="#e27b77"/>
<circle cx="314.3" cy="2247.8" r="4.0" fill="#e27b77"/>
<circle cx="314.3" cy="2191.3" r="4.0" fill="#4a6fb0"/>
<circle cx="314.3" cy="2273.7" r="4.0" fill="#4a6fb0"/>
<circle cx="316.8" cy="2162.0" r="4.0" fill="#4a6fb0"/>
<circle cx="316.8" cy="2185.6" r="4.0" fill="#4a6fb0"/>
<circle cx="316.8" cy="2257.1" r="4.0" fill="#4a6fb0"/>
<circle cx="317.5" cy="2299.3" r="4.0" fill="#4a6fb0"/>
<circle cx="318.7" cy="2218.2" r="4.0" fill="#4a6fb0"/>
<circle cx="319.3" cy="2249.3" r="4.0" fill="#4a6fb0"/>
<circle cx="319.4" cy="2268.6" r="4.0" fill="#4a6fb0"/>
<circle cx="319.4" cy="2295.4" r="4.0" fill="#4a6fb0"/>
<circle cx="321.3" cy="2221.4" r="4.0" fill="#4a6fb0"/>
<circle cx="321.9" cy="2259.7" r="4.0" fill="#4a6fb0"/>
<circle cx="321.9" cy="2273.7" r="4.0" fill="#4a6fb0"/>
<circle cx="322.3" cy="2243.1" r="4.0" fill="#4a6fb0"/>
<circle cx="323.2" cy="2223.9" r="4.0" fill="#4a6fb0"/>
<circle cx="324.5" cy="2248.2" r="4.0" fill="#4a6fb0"/>
<circle cx="324.5" cy="2281.4" r="4.0" fill="#e27b77"/>
<circle cx="325.7" cy="2290.7" r="4.0" fill="#4a6fb0"/>
<circle cx="325.8" cy="2269.9" r="4.0" fill="#e27b77"/>
<circle cx="326.7" cy="2298.7" r="4.0" fill="#4a6fb0"/>
<circle cx="327.0" cy="2276.3" r="4.0" fill="#4a6fb0"/>
<circle cx="328.3" cy="2222.6" r="4.0" fill="#4a6fb0"/>
<circle cx="328.3" cy="2252.0" r="4.0" fill="#4a6fb0"/>
<circle cx="329.6" cy="2234.1" r="4.0" fill="#4a6fb0"/>
<circle cx="330.9" cy="2239.2" r="4.0" fill="#4a6fb0"/>
<circle cx="330.9" cy="2267.3" r="4.0" fill="#4a6fb0"/>
<circle cx="332.1" cy="2259.7" r="4.0" fill="#e27b77"/>
<circle cx="332.1" cy="2292.9" r="4.0" fill="#e27b77"/>
<circle cx="333.4" cy="2221.4" r="4.0" fill="#4a6fb0"/>
<circle cx="334.7" cy="2273.7" r="4.0" fill="#4a6fb0"/>
<circle cx="335.0" cy="2279.2" r="4.0" fill="#4a6fb0"/>
<circle cx="336.0" cy="2252.0" r="4.0" fill="#e27b77"/>
<circle cx="336.5" cy="2284.7" r="4.0" fill="#4a6fb0"/>
<circle cx="337.3" cy="2188.1" r="4.0" fill="#4a6fb0"/>
<circle cx="337.3" cy="2296.7" r="4.0" fill="#4a6fb0"/>
<circle cx="338.5" cy="2266.1" r="4.0" fill="#e27b77"/>
<circle cx="339.8" cy="2257.1" r="4.0" fill="#4a6fb0"/>
<circle cx="339.8" cy="2275.0" r="4.0" fill="#4a6fb0"/>
<circle cx="341.1" cy="2239.2" r="4.0" fill="#4a6fb0"/>
<circle cx="342.2" cy="2251.2" r="4.0" fill="#4a6fb0"/>
<circle cx="343.6" cy="2172.2" r="4.0" fill="#4a6fb0"/>
<circle cx="343.6" cy="2264.8" r="4.0" fill="#4a6fb0"/>
<circle cx="343.6" cy="2280.1" r="4.0" fill="#e27b77"/>
<circle cx="343.6" cy="2296.7" r="4.0" fill="#e27b77"/>
<circle cx="346.2" cy="2254.6" r="4.0" fill="#4a6fb0"/>
<circle cx="346.2" cy="2259.7" r="4.0" fill="#4a6fb0"/>
<circle cx="346.2" cy="2277.5" r="4.0" fill="#e27b77"/>
<circle cx="346.2" cy="2299.3" r="4.0" fill="#e27b77"/>
<circle cx="346.9" cy="2248.4" r="4.0" fill="#e27b77"/>
<circle cx="347.5" cy="2234.1" r="4.0" fill="#4a6fb0"/>
<circle cx="348.1" cy="2190.1" r="4.0" fill="#4a6fb0"/>
<circle cx="350.0" cy="2266.1" r="4.0" fill="#4a6fb0"/>
<circle cx="351.3" cy="2275.0" r="4.0" fill="#4a6fb0"/>
<circle cx="351.3" cy="2282.7" r="4.0" fill="#4a6fb0"/>
<circle cx="352.6" cy="2215.0" r="4.0" fill="#4a6fb0"/>
<circle cx="353.9" cy="2255.8" r="4.0" fill="#4a6fb0"/>
<circle cx="355.8" cy="2206.0" r="4.0" fill="#4a6fb0"/>
<circle cx="356.4" cy="2268.6" r="4.0" fill="#4a6fb0"/>
<circle cx="356.4" cy="2296.7" r="4.0" fill="#4a6fb0"/>
<circle cx="356.8" cy="2246.7" r="4.0" fill="#e27b77"/>
<circle cx="357.7" cy="2276.3" r="4.0" fill="#4a6fb0"/>
<circle cx="359.0" cy="2234.1" r="4.0" fill="#4a6fb0"/>
<circle cx="359.0" cy="2259.7" r="4.0" fill="#e27b77"/>
<circle cx="359.1" cy="2281.9" r="4.0" fill="#4a6fb0"/>
<circle cx="361.5" cy="2201.6" r="4.0" fill="#e27b77"/>
<circle cx="361.5" cy="2262.2" r="4.0" fill="#e27b77"/>
<circle cx="361.5" cy="2295.4" r="4.0" fill="#4a6fb0"/>
<circle cx="362.8" cy="2243.7" r="4.0" fill="#e27b77"/>
<circle cx="364.1" cy="2250.7" r="4.0" fill="#4a6fb0"/>
<circle cx="364.1" cy="2276.3" r="4.0" fill="#4a6fb0"/>
<circle cx="366.2" cy="2292.9" r="4.0" fill="#e27b77"/>
<circle cx="366.6" cy="2266.1" r="4.0" fill="#4a6fb0"/>
<circle cx="369.2" cy="2249.4" r="4.0" fill="#4a6fb0"/>
<circle cx="369.3" cy="2271.1" r="4.0" fill="#4a6fb0"/>
<circle cx="369.8" cy="2191.3" r="4.0" fill="#4a6fb0"/>
<circle cx="370.5" cy="2277.5" r="4.0" fill="#e27b77"/>
<circle cx="371.7" cy="2282.7" r="4.0" fill="#e27b77"/>
<circle cx="372.2" cy="2256.7" r="4.0" fill="#e27b77"/>
<circle cx="373.0" cy="2262.2" r="4.0" fill="#4a6fb0"/>
<circle cx="373.0" cy="2295.4" r="4.0" fill="#4a6fb0"/>
<circle cx="374.3" cy="2267.3" r="4.0" fill="#4a6fb0"/>
<circle cx="376.8" cy="2250.7" r="4.0" fill="#4a6fb0"/>
<circle cx="376.9" cy="2242.8" r="4.0" fill="#e27b77"/>
<circle cx="378.1" cy="2298.0" r="4.0" fill="#4a6fb0"/>
<circle cx="379.4" cy="2232.8" r="4.0" fill="#4a6fb0"/>
<circle cx="379.4" cy="2259.7" r="4.0" fill="#4a6fb0"/>
<circle cx="379.4" cy="2276.3" r="4.0" fill="#e27b77"/>
<circle cx="380.0" cy="2251.0" r="4.0" fill="#4a6fb0"/>
<circle cx="380.0" cy="2262.9" r="4.0" fill="#4a6fb0"/>
<circle cx="381.3" cy="2200.3" r="4.0" fill="#4a6fb0"/>
<circle cx="382.0" cy="2268.6" r="4.0" fill="#4a6fb0"/>
<circle cx="382.0" cy="2282.7" r="4.0" fill="#e27b77"/>
<circle cx="382.0" cy="2291.6" r="4.0" fill="#e27b77"/>
<circle cx="382.6" cy="2257.6" r="4.0" fill="#4a6fb0"/>
<circle cx="383.2" cy="2225.2" r="4.0" fill="#4a6fb0"/>
<circle cx="384.5" cy="2253.3" r="4.0" fill="#4a6fb0"/>
<circle cx="385.1" cy="2177.3" r="4.0" fill="#4a6fb0"/>
<circle cx="385.3" cy="2277.5" r="4.0" fill="#e27b77"/>
<circle cx="385.8" cy="2275.0" r="4.0" fill="#e27b77"/>
<circle cx="386.0" cy="2227.2" r="4.0" fill="#4a6fb0"/>
<circle cx="387.1" cy="2257.1" r="4.0" fill="#e27b77"/>
<circle cx="387.1" cy="2267.3" r="4.0" fill="#4a6fb0"/>
<circle cx="387.7" cy="2150.5" r="4.0" fill="#4a6fb0"/>
<circle cx="387.9" cy="2252.3" r="4.0" fill="#e27b77"/>
<circle cx="387.9" cy="2270.9" r="4.0" fill="#4a6fb0"/>
<circle cx="388.3" cy="2223.9" r="4.0" fill="#4a6fb0"/>
<circle cx="389.3" cy="2262.9" r="4.0" fill="#e27b77"/>
<circle cx="391.6" cy="2247.3" r="4.0" fill="#e27b77"/>
<circle cx="391.9" cy="2289.4" r="4.0" fill="#e27b77"/>
<circle cx="392.7" cy="2275.4" r="4.0" fill="#4a6fb0"/>
<circle cx="393.2" cy="2255.0" r="4.0" fill="#4a6fb0"/>
<circle cx="393.2" cy="2266.9" r="4.0" fill="#4a6fb0"/>
<circle cx="393.2" cy="2284.1" r="4.0" fill="#e27b77"/>
<circle cx="394.6" cy="2175.6" r="4.0" fill="#4a6fb0"/>
<circle cx="395.2" cy="2182.2" r="4.0" fill="#4a6fb0"/>
<circle cx="395.9" cy="2264.3" r="4.0" fill="#4a6fb0"/>
<circle cx="396.5" cy="2243.1" r="4.0" fill="#4a6fb0"/>
<circle cx="397.2" cy="2249.0" r="4.0" fill="#4a6fb0"/>
<circle cx="398.5" cy="2257.6" r="4.0" fill="#4a6fb0"/>
<circle cx="398.5" cy="2274.8" r="4.0" fill="#4a6fb0"/>
<circle cx="399.9" cy="2284.1" r="4.0" fill="#4a6fb0"/>
<circle cx="401.2" cy="2268.2" r="4.0" fill="#4a6fb0"/>
<circle cx="401.8" cy="2171.0" r="4.0" fill="#e27b77"/>
<circle cx="403.2" cy="2234.5" r="4.0" fill="#e27b77"/>
<circle cx="403.8" cy="2215.9" r="4.0" fill="#4a6fb0"/>
<circle cx="403.8" cy="2259.0" r="4.0" fill="#4a6fb0"/>
<circle cx="404.4" cy="2289.8" r="4.0" fill="#4a6fb0"/>
<circle cx="405.5" cy="2284.2" r="4.0" fill="#4a6fb0"/>
<circle cx="405.5" cy="2250.7" r="4.0" fill="#e27b77"/>
<circle cx="406.5" cy="2241.8" r="4.0" fill="#4a6fb0"/>
<circle cx="406.5" cy="2276.2" r="4.0" fill="#e27b77"/>
<circle cx="407.8" cy="2202.0" r="4.0" fill="#4a6fb0"/>
<circle cx="407.8" cy="2266.9" r="4.0" fill="#4a6fb0"/>
<circle cx="408.5" cy="2236.5" r="4.0" fill="#e27b77"/>
<circle cx="408.7" cy="2293.7" r="4.0" fill="#4a6fb0"/>
<circle cx="409.1" cy="2215.3" r="4.0" fill="#4a6fb0"/>
<circle cx="409.8" cy="2226.5" r="4.0" fill="#4a6fb0"/>
<circle cx="410.4" cy="2261.6" r="4.0" fill="#4a6fb0"/>
<circle cx="410.9" cy="2248.7" r="4.0" fill="#4a6fb0"/>
<circle cx="411.7" cy="2283.4" r="4.0" fill="#4a6fb0"/>
<circle cx="414.0" cy="2254.1" r="4.0" fill="#4a6fb0"/>
<circle cx="414.4" cy="2214.6" r="4.0" fill="#4a6fb0"/>
<circle cx="414.4" cy="2269.5" r="4.0" fill="#4a6fb0"/>
<circle cx="415.7" cy="2297.3" r="4.0" fill="#4a6fb0"/>
<circle cx="417.1" cy="2260.3" r="4.0" fill="#4a6fb0"/>
<circle cx="419.0" cy="2223.2" r="4.0" fill="#4a6fb0"/>
<circle cx="419.7" cy="2240.4" r="4.0" fill="#4a6fb0"/>
<circle cx="419.7" cy="2266.9" r="4.0" fill="#4a6fb0"/>
<circle cx="419.7" cy="2281.5" r="4.0" fill="#e27b77"/>
<circle cx="419.9" cy="2255.1" r="4.0" fill="#4a6fb0"/>
<circle cx="421.0" cy="2236.5" r="4.0" fill="#4a6fb0"/>
<circle cx="422.4" cy="2289.4" r="4.0" fill="#4a6fb0"/>
<circle cx="422.6" cy="2274.5" r="4.0" fill="#4a6fb0"/>
<circle cx="423.1" cy="2016.1" r="4.0" fill="#4a6fb0"/>
<circle cx="423.7" cy="2247.0" r="4.0" fill="#4a6fb0"/>
<circle cx="423.7" cy="2262.9" r="4.0" fill="#4a6fb0"/>
<circle cx="426.3" cy="2294.7" r="4.0" fill="#4a6fb0"/>
<circle cx="427.6" cy="2281.5" r="4.0" fill="#4a6fb0"/>
<circle cx="429.0" cy="2266.9" r="4.0" fill="#4a6fb0"/>
<circle cx="430.3" cy="2272.2" r="4.0" fill="#4a6fb0"/>
<circle cx="430.3" cy="2293.4" r="4.0" fill="#4a6fb0"/>
<circle cx="431.6" cy="2257.6" r="4.0" fill="#e27b77"/>
<circle cx="431.9" cy="2246.1" r="4.0" fill="#e27b77"/>
<circle cx="432.9" cy="2237.8" r="4.0" fill="#4a6fb0"/>
<circle cx="434.3" cy="2184.8" r="4.0" fill="#4a6fb0"/>
<circle cx="434.3" cy="2284.1" r="4.0" fill="#4a6fb0"/>
<circle cx="435.6" cy="2223.9" r="4.0" fill="#4a6fb0"/>
<circle cx="436.9" cy="2229.8" r="4.0" fill="#4a6fb0"/>
<circle cx="436.9" cy="2252.3" r="4.0" fill="#e27b77"/>
<circle cx="436.9" cy="2274.8" r="4.0" fill="#4a6fb0"/>
<circle cx="436.9" cy="2289.4" r="4.0" fill="#e27b77"/>
<circle cx="438.2" cy="2265.6" r="4.0" fill="#4a6fb0"/>
<circle cx="440.9" cy="2225.2" r="4.0" fill="#4a6fb0"/>
<circle cx="440.9" cy="2281.5" r="4.0" fill="#4a6fb0"/>
<circle cx="440.9" cy="2293.4" r="4.0" fill="#4a6fb0"/>
<circle cx="441.3" cy="2245.3" r="4.0" fill="#4a6fb0"/>
<circle cx="442.1" cy="2287.3" r="4.0" fill="#e27b77"/>
<circle cx="442.2" cy="2257.6" r="4.0" fill="#e27b77"/>
<circle cx="443.5" cy="2272.2" r="4.0" fill="#e27b77"/>
<circle cx="443.5" cy="2297.3" r="4.0" fill="#e27b77"/>
<circle cx="446.2" cy="2266.9" r="4.0" fill="#e27b77"/>
<circle cx="446.2" cy="2281.5" r="4.0" fill="#e27b77"/>
<circle cx="447.5" cy="2276.2" r="4.0" fill="#e27b77"/>
<circle cx="447.5" cy="2296.0" r="4.0" fill="#e27b77"/>
<circle cx="448.8" cy="2255.0" r="4.0" fill="#e27b77"/>
<circle cx="450.1" cy="2260.3" r="4.0" fill="#e27b77"/>
</g>
<path d="M274.3,1672.90h4.6v4.4h-4.6zM274.3,2003.70h4.6v4.4h-4.6zM274.3,1688.93h4.6v4.4h-4.6zM274.3,2019.78h4.6v4.4h-4.6zM274.3,1704.96h4.6v4.4h-4.6zM274.3,2035.86h4.6v4.4h-4.6zM274.3,1720.99h4.6v4.4h-4.6zM274.3,2051.94h4.6v4.4h-4.6zM274.3,1737.02h4.6v4.4h-4.6zM274.3,2068.02h4.6v4.4h-4.6zM274.3,1753.05h4.6v4.4h-4.6zM274.3,2084.10h4.6v4.4h-4.6zM274.3,1769.08h4.6v4.4h-4.6zM274.3,2100.18h4.6v4.4h-4.6zM274.3,1785.11h4.6v4.4h-4.6zM274.3,2116.26h4.6v4.4h-4.6zM274.3,1801.14h4.6v4.4h-4.6zM274.3,2132.34h4.6v4.4h-4.6zM274.3,1817.17h4.6v4.4h-4.6zM274.3,2148.42h4.6v4.4h-4.6zM274.3,1833.20h4.6v4.4h-4.6zM274.3,2164.50h4.6v4.4h-4.6zM274.3,1849.23h4.6v4.4h-4.6zM274.3,2180.58h4.6v4.4h-4.6zM274.3,1865.26h4.6v4.4h-4.6zM274.3,2196.66h4.6v4.4h-4.6zM274.3,1881.29h4.6v4.4h-4.6zM274.3,2212.74h4.6v4.4h-4.6zM274.3,1897.32h4.6v4.4h-4.6zM274.3,2228.82h4.6v4.4h-4.6zM274.3,1913.35h4.6v4.4h-4.6zM274.3,2244.90h4.6v4.4h-4.6zM274.3,1929.38h4.6v4.4h-4.6zM274.3,2260.98h4.6v4.4h-4.6zM274.3,1945.41h4.6v4.4h-4.6zM274.3,2277.06h4.6v4.4h-4.6zM274.3,1961.44h4.6v4.4h-4.6zM274.3,2293.14h4.6v4.4h-4.6zM274.3,1977.47h4.6v4.4h-4.6zM274.3,2309.22h4.6v4.4h-4.6z" fill="#000"/>
<rect x="103.20" y="1665.80" width="477.80" height="647.40" fill="none" stroke="#000" stroke-width="2.6" />
<line x1="103.20" y1="1992.10" x2="581.00" y2="1992.10" stroke="#000" stroke-width="2.6" />
<line x1="99.00" y1="1976.80" x2="103.00" y2="1976.80" stroke="#333" stroke-width="1.5" />
<text transform="translate(85.40,1981.94) scale(1.1094,1)" font-size="15.77" font-weight="normal" font-style="normal" fill="#4d4d4d" text-anchor="start" >0</text>
<line x1="99.00" y1="1892.30" x2="103.00" y2="1892.30" stroke="#333" stroke-width="1.5" />
<text transform="translate(85.57,1897.60) scale(1.1094,1)" font-size="15.77" font-weight="normal" font-style="normal" fill="#4d4d4d" text-anchor="start" >2</text>
<line x1="99.00" y1="1807.80" x2="103.00" y2="1807.80" stroke="#333" stroke-width="1.5" />
<text transform="translate(85.22,1813.10) scale(1.1094,1)" font-size="15.77" font-weight="normal" font-style="normal" fill="#4d4d4d" text-anchor="start" >4</text>
<line x1="99.00" y1="1723.30" x2="103.00" y2="1723.30" stroke="#333" stroke-width="1.5" />
<text transform="translate(85.57,1728.60) scale(1.1094,1)" font-size="15.77" font-weight="normal" font-style="normal" fill="#4d4d4d" text-anchor="start" >6</text>
<line x1="99.00" y1="2299.40" x2="103.00" y2="2299.40" stroke="#333" stroke-width="1.5" />
<text transform="translate(85.50,2304.70) scale(1.1094,1)" font-size="15.77" font-weight="normal" font-style="normal" fill="#4d4d4d" text-anchor="start" >0</text>
<line x1="99.00" y1="2223.95" x2="103.00" y2="2223.95" stroke="#333" stroke-width="1.5" />
<text transform="translate(85.67,2229.25) scale(1.1094,1)" font-size="15.77" font-weight="normal" font-style="normal" fill="#4d4d4d" text-anchor="start" >5</text>
<line x1="99.00" y1="2148.50" x2="103.00" y2="2148.50" stroke="#333" stroke-width="1.5" />
<text transform="translate(78.20,2153.80) scale(0.9541,1)" font-size="15.77" font-weight="normal" font-style="normal" fill="#4d4d4d" text-anchor="start" >10</text>
<line x1="99.00" y1="2073.05" x2="103.00" y2="2073.05" stroke="#333" stroke-width="1.5" />
<text transform="translate(78.20,2078.35) scale(0.9541,1)" font-size="15.77" font-weight="normal" font-style="normal" fill="#4d4d4d" text-anchor="start" >15</text>
<text transform="translate(65.70,1874.82) rotate(-90)" font-size="20.30" font-weight="normal" font-style="normal" fill="#000" xml:space="preserve">Risk Score</text>
<text transform="translate(66.10,2242.61) rotate(-90)" font-size="20.14" xml:space="preserve">Survival Time  <tspan dy="-4">(year)</tspan></text>
<text transform="translate(473.85,1803.50) scale(0.9685,1)" font-size="18.77" font-weight="normal" font-style="normal" fill="#000" text-anchor="start" >Risk Group</text>
<rect x="474.50" y="1816.00" width="23.40" height="48.00" fill="#f2f2f2" stroke="none" stroke-width="0" />
<circle cx="485.6" cy="1827.3" r="4.1" fill="#4a6fb0"/><circle cx="485.6" cy="1852.7" r="4.1" fill="#e27b77"/>
<text transform="translate(505.82,1833.70) scale(1.0547,1)" font-size="16.38" font-weight="normal" font-style="normal" fill="#000" text-anchor="start" >Low</text>
<text transform="translate(505.82,1857.90) scale(1.1162,1)" font-size="15.48" font-weight="normal" font-style="normal" fill="#000" text-anchor="start" >High</text>
<text transform="translate(482.89,2134.60) scale(1.0829,1)" font-size="16.86" font-weight="normal" font-style="normal" fill="#000" text-anchor="start" >Status</text>
<rect x="483.50" y="2147.00" width="22.50" height="49.00" fill="#f2f2f2" stroke="none" stroke-width="0" />
<circle cx="495.2" cy="2159.1" r="4.1" fill="#4a6fb0"/><circle cx="495.2" cy="2184.3" r="4.1" fill="#e27b77"/>
<text transform="translate(516.20,2165.40) scale(1.0359,1)" font-size="16.30" font-weight="normal" font-style="normal" fill="#000" text-anchor="start" >Alive</text>
<clipPath id="clipDead"><rect x="505" y="2170" width="49.4" height="30"/></clipPath><g clip-path="url(#clipDead)">
<text transform="translate(515.91,2190.90) scale(0.9684,1)" font-size="17.95" font-weight="normal" font-style="normal" fill="#000" text-anchor="start" >Dead</text>
</g>
<text transform="translate(664.65,1686.48) scale(0.9412,1)" font-size="52.11" font-weight="normal" font-style="normal" fill="#000" text-anchor="start" >C</text>
<rect x="762.50" y="1669.30" width="431.10" height="432.70" fill="none" stroke="#000" stroke-width="3" />
<line x1="758.30" y1="1703.20" x2="762.50" y2="1703.20" stroke="#333" stroke-width="1.5" />
<text transform="translate(723.55,1709.72) scale(1.0261,1)" font-size="17.61" font-weight="normal" font-style="normal" fill="#4d4d4d" text-anchor="start" >100</text>
<line x1="758.30" y1="1797.90" x2="762.50" y2="1797.90" stroke="#333" stroke-width="1.5" />
<text transform="translate(733.67,1804.50) scale(1.0261,1)" font-size="17.61" font-weight="normal" font-style="normal" fill="#4d4d4d" text-anchor="start" >75</text>
<line x1="758.30" y1="1892.60" x2="762.50" y2="1892.60" stroke="#333" stroke-width="1.5" />
<text transform="translate(733.67,1899.20) scale(1.0261,1)" font-size="17.61" font-weight="normal" font-style="normal" fill="#4d4d4d" text-anchor="start" >50</text>
<line x1="758.30" y1="1987.30" x2="762.50" y2="1987.30" stroke="#333" stroke-width="1.5" />
<text transform="translate(733.67,1993.90) scale(1.0261,1)" font-size="17.61" font-weight="normal" font-style="normal" fill="#4d4d4d" text-anchor="start" >25</text>
<line x1="758.30" y1="2082.00" x2="762.50" y2="2082.00" stroke="#333" stroke-width="1.5" />
<text transform="translate(743.61,2088.60) scale(1.0261,1)" font-size="17.61" font-weight="normal" font-style="normal" fill="#4d4d4d" text-anchor="start" >0</text>
<line x1="781.50" y1="2102.00" x2="781.50" y2="2105.50" stroke="#333" stroke-width="1.5" />
<text transform="translate(776.78,2123.00) scale(1.0261,1)" font-size="17.61" font-weight="normal" font-style="normal" fill="#4d4d4d" text-anchor="start" >0</text>
<line x1="859.20" y1="2102.00" x2="859.20" y2="2105.50" stroke="#333" stroke-width="1.5" />
<text transform="translate(854.48,2123.00) scale(1.0261,1)" font-size="17.61" font-weight="normal" font-style="normal" fill="#4d4d4d" text-anchor="start" >2</text>
<line x1="936.90" y1="2102.00" x2="936.90" y2="2105.50" stroke="#333" stroke-width="1.5" />
<text transform="translate(932.18,2123.00) scale(1.0261,1)" font-size="17.61" font-weight="normal" font-style="normal" fill="#4d4d4d" text-anchor="start" >4</text>
<line x1="1014.60" y1="2102.00" x2="1014.60" y2="2105.50" stroke="#333" stroke-width="1.5" />
<text transform="translate(1009.88,2123.00) scale(1.0261,1)" font-size="17.61" font-weight="normal" font-style="normal" fill="#4d4d4d" text-anchor="start" >6</text>
<line x1="1092.30" y1="2102.00" x2="1092.30" y2="2105.50" stroke="#333" stroke-width="1.5" />
<text transform="translate(1087.58,2123.00) scale(1.0261,1)" font-size="17.61" font-weight="normal" font-style="normal" fill="#4d4d4d" text-anchor="start" >8</text>
<line x1="1170.00" y1="2102.00" x2="1170.00" y2="2105.50" stroke="#333" stroke-width="1.5" />
<text transform="translate(1160.25,2123.00) scale(1.0261,1)" font-size="17.61" font-weight="normal" font-style="normal" fill="#4d4d4d" text-anchor="start" >10</text>
<text transform="translate(704.00,1988.69) rotate(-90)" font-size="19.85" font-weight="normal" font-style="normal" fill="#000" xml:space="preserve">Survival probability (%)</text>
<line x1="781.50" y1="1893.10" x2="1128.20" y2="1893.10" stroke="#000" stroke-width="1.7" stroke-dasharray="6 6.9"/>
<line x1="1128.20" y1="1893.10" x2="1128.20" y2="2082.40" stroke="#000" stroke-width="1.7" stroke-dasharray="6.5 6.3"/>
<path d="M781.5,1703.2 L781.5,1705.0 L792.5,1712.5 L800.0,1717.7 L811.2,1723.0 L822.4,1733.4 L833.7,1742.4 L844.9,1747.7 L856.1,1757.4 L867.4,1763.4 L874.9,1772.4 L886.1,1785.9 L893.6,1792.6 L898.4,1801.1 L912.3,1803.0 L921.5,1805.7 L930.7,1807.6 L939.9,1814.0 L947.3,1819.5 L1032.5,1819.5 L1032.5,1830.6 L1113.3,1830.6 L1113.3,1867.1 L1128.4,1867.1 L1128.4,1902.6 L1138.3,1902.6 L1138.3,1947.8 L1190.0,1947.8" fill="none" stroke="#b8432f" stroke-width="2.2" stroke-linejoin="miter"/>
<path d="M805.5,1722.4h9M810.0,1717.6v9.6M807.7,1723.9h9M812.2,1719.1v9.6M809.9,1726.0h9M814.4,1721.2v9.6M812.1,1728.0h9M816.6,1723.2v9.6M814.3,1730.1h9M818.8,1725.3v9.6M816.5,1732.1h9M821.0,1727.3v9.6M818.7,1734.0h9M823.2,1729.2v9.6M820.9,1735.8h9M825.4,1731.0v9.6M823.1,1737.5h9M827.6,1732.7v9.6M825.3,1739.3h9M829.8,1734.5v9.6M827.5,1741.0h9M832.0,1736.2v9.6M829.7,1742.6h9M834.2,1737.8v9.6M831.9,1743.7h9M836.4,1738.9v9.6M834.1,1744.7h9M838.6,1739.9v9.6M836.3,1745.8h9M840.8,1741.0v9.6M838.5,1746.8h9M843.0,1742.0v9.6M840.7,1748.0h9M845.2,1743.2v9.6M842.9,1749.9h9M847.4,1745.1v9.6M845.1,1751.8h9M849.6,1747.0v9.6M847.3,1753.7h9M851.8,1748.9v9.6M849.5,1755.6h9M854.0,1750.8v9.6M851.7,1757.5h9M856.2,1752.7v9.6M853.9,1758.6h9M858.4,1753.8v9.6M856.1,1759.8h9M860.6,1755.0v9.6M858.3,1761.0h9M862.8,1756.2v9.6M860.5,1762.1h9M865.0,1757.3v9.6M862.7,1763.3h9M867.2,1758.5v9.6M864.9,1765.8h9M869.4,1761.0v9.6M867.1,1768.4h9M871.6,1763.6v9.6M869.3,1771.1h9M873.8,1766.3v9.6M871.5,1773.7h9M876.0,1768.9v9.6M873.7,1776.4h9M878.2,1771.6v9.6M875.9,1779.0h9M880.4,1774.2v9.6M878.1,1781.7h9M882.6,1776.9v9.6M880.3,1784.3h9M884.8,1779.5v9.6M882.5,1786.7h9M887.0,1781.9v9.6M884.7,1788.7h9M889.2,1783.9v9.6M886.9,1790.6h9M891.4,1785.8v9.6M889.1,1792.6h9M893.6,1787.8v9.6M891.3,1796.5h9M895.8,1791.7v9.6M893.5,1800.4h9M898.0,1795.6v9.6M943.7,1819.5h9M948.2,1814.7v9.6M951.1,1819.5h9M955.6,1814.7v9.6M957.5,1819.5h9M962.0,1814.7v9.6M963.1,1819.5h9M967.6,1814.7v9.6M967.5,1819.5h9M972.0,1814.7v9.6M970.0,1819.5h9M974.5,1814.7v9.6M972.5,1819.5h9M977.0,1814.7v9.6M975.0,1819.5h9M979.5,1814.7v9.6M976.9,1819.5h9M981.4,1814.7v9.6M981.5,1819.5h9M986.0,1814.7v9.6M984.3,1819.5h9M988.8,1814.7v9.6M990.7,1819.5h9M995.2,1814.7v9.6M995.3,1819.5h9M999.8,1814.7v9.6M1000.8,1819.5h9M1005.3,1814.7v9.6M1007.3,1819.5h9M1011.8,1814.7v9.6M1013.7,1819.5h9M1018.2,1814.7v9.6M1018.4,1819.5h9M1022.9,1814.7v9.6M1024.8,1819.5h9M1029.3,1814.7v9.6M1031.4,1830.6h9M1035.9,1825.8v9.6M1035.3,1830.6h9M1039.8,1825.8v9.6M1047.0,1830.6h9M1051.5,1825.8v9.6M1053.9,1830.6h9M1058.4,1825.8v9.6M1055.7,1830.6h9M1060.2,1825.8v9.6M1057.8,1830.6h9M1062.3,1825.8v9.6M1062.7,1830.6h9M1067.2,1825.8v9.6M1066.6,1830.6h9M1071.1,1825.8v9.6M1071.0,1830.6h9M1075.5,1825.8v9.6M1078.4,1830.6h9M1082.9,1825.8v9.6M1090.1,1830.6h9M1094.6,1825.8v9.6M1093.1,1830.6h9M1097.6,1825.8v9.6M1102.9,1830.6h9M1107.4,1825.8v9.6M1130.2,1902.6h9M1134.7,1897.8v9.6M1143.7,1947.8h9M1148.2,1943.0v9.6M1159.4,1947.8h9M1163.9,1943.0v9.6M894.9,1801.2h9M899.4,1796.4v9.6M896.7,1801.5h9M901.2,1796.7v9.6M898.5,1801.7h9M903.0,1796.9v9.6M903.1,1802.4h9M907.6,1797.6v9.6M905.9,1802.7h9M910.4,1797.9v9.6M909.6,1803.5h9M914.1,1798.7v9.6M917.9,1805.9h9M922.4,1801.1v9.6M925.3,1807.4h9M929.8,1802.6v9.6M929.0,1809.5h9M933.5,1804.7v9.6M932.6,1812.1h9M937.1,1807.3v9.6M938.2,1816.1h9M942.7,1811.3v9.6M940.0,1817.4h9M944.5,1812.6v9.6M779.5,1706.7h9M784.0,1701.9v9.6M782.0,1708.4h9M786.5,1703.6v9.6M784.5,1710.1h9M789.0,1705.3v9.6M787.0,1711.8h9M791.5,1707.0v9.6M789.5,1713.5h9M794.0,1708.7v9.6M792.5,1715.6h9M797.0,1710.8v9.6M796.0,1717.9h9M800.5,1713.1v9.6M799.0,1719.4h9M803.5,1714.6v9.6M802.5,1721.0h9M807.0,1716.2v9.6" fill="none" stroke="#b8432f" stroke-width="2.1"/>
<path d="M781.5,1703.2 L781.2,1702.5 L788.7,1706.5 L800.0,1707.6 L815.0,1707.2 L822.4,1714.0 L833.7,1717.0 L841.2,1722.2 L848.7,1724.5 L859.9,1732.0 L871.1,1738.0 L882.4,1742.4 L893.8,1749.5 L907.6,1756.9 L916.9,1760.6 L928.8,1764.2 L937.1,1767.9 L967.6,1768.4 L976.8,1774.4 L981.4,1778.1 L1013.6,1778.1 L1018.2,1784.5 L1020.0,1785.7 L1146.5,1785.7 L1146.5,1818.9 L1189.2,1818.9" fill="none" stroke="#1f6fa8" stroke-width="2.2" stroke-linejoin="miter"/>
<path d="M778.5,1703.5h9M783.0,1698.7v9.6M780.7,1704.6h9M785.2,1699.8v9.6M782.9,1705.8h9M787.4,1701.0v9.6M785.1,1706.6h9M789.6,1701.8v9.6M787.3,1706.8h9M791.8,1702.0v9.6M789.5,1707.0h9M794.0,1702.2v9.6M791.7,1707.2h9M796.2,1702.4v9.6M793.0,1707.4h9M797.5,1702.6v9.6M796.0,1707.6h9M800.5,1702.8v9.6M799.0,1707.5h9M803.5,1702.7v9.6M802.0,1707.4h9M806.5,1702.6v9.6M805.0,1707.3h9M809.5,1702.5v9.6M808.0,1707.3h9M812.5,1702.5v9.6M811.0,1707.7h9M815.5,1702.9v9.6M812.0,1708.6h9M816.5,1703.8v9.6M814.2,1710.6h9M818.7,1705.8v9.6M816.4,1712.6h9M820.9,1707.8v9.6M818.6,1714.2h9M823.1,1709.4v9.6M820.8,1714.8h9M825.3,1710.0v9.6M823.0,1715.4h9M827.5,1710.6v9.6M825.2,1715.9h9M829.7,1711.1v9.6M827.4,1716.5h9M831.9,1711.7v9.6M829.6,1717.3h9M834.1,1712.5v9.6M831.8,1718.8h9M836.3,1714.0v9.6M834.0,1720.3h9M838.5,1715.5v9.6M836.2,1721.9h9M840.7,1717.1v9.6M838.4,1722.7h9M842.9,1717.9v9.6M840.6,1723.4h9M845.1,1718.6v9.6M842.8,1724.1h9M847.3,1719.3v9.6M845.0,1725.0h9M849.5,1720.2v9.6M847.2,1726.5h9M851.7,1721.7v9.6M849.4,1728.0h9M853.9,1723.2v9.6M851.6,1729.5h9M856.1,1724.7v9.6M853.8,1730.9h9M858.3,1726.1v9.6M856.0,1732.3h9M860.5,1727.5v9.6M858.2,1733.5h9M862.7,1728.7v9.6M860.4,1734.7h9M864.9,1729.9v9.6M862.6,1735.9h9M867.1,1731.1v9.6M864.8,1737.0h9M869.3,1732.2v9.6M867.0,1738.2h9M871.5,1733.4v9.6M869.2,1739.0h9M873.7,1734.2v9.6M871.4,1739.9h9M875.9,1735.1v9.6M873.6,1740.7h9M878.1,1735.9v9.6M875.8,1741.6h9M880.3,1736.8v9.6M878.0,1742.5h9M882.5,1737.7v9.6M880.2,1743.8h9M884.7,1739.0v9.6M882.4,1745.2h9M886.9,1740.4v9.6M884.6,1746.6h9M889.1,1741.8v9.6M886.8,1747.9h9M891.3,1743.1v9.6M889.0,1749.3h9M893.5,1744.5v9.6M891.2,1750.5h9M895.7,1745.7v9.6M893.4,1751.7h9M897.9,1746.9v9.6M895.6,1752.9h9M900.1,1748.1v9.6M897.8,1754.1h9M902.3,1749.3v9.6M900.0,1755.2h9M904.5,1750.4v9.6M902.2,1756.4h9M906.7,1751.6v9.6M904.4,1757.4h9M908.9,1752.6v9.6M906.6,1758.3h9M911.1,1753.5v9.6M908.8,1759.2h9M913.3,1754.4v9.6M911.0,1760.0h9M915.5,1755.2v9.6M913.2,1760.8h9M917.7,1756.0v9.6M915.4,1761.5h9M919.9,1756.7v9.6M917.6,1762.2h9M922.1,1757.4v9.6M919.8,1762.8h9M924.3,1758.0v9.6M922.0,1763.5h9M926.5,1758.7v9.6M924.2,1764.2h9M928.7,1759.4v9.6M926.4,1765.1h9M930.9,1760.3v9.6M928.6,1766.1h9M933.1,1761.3v9.6M930.8,1767.1h9M935.3,1762.3v9.6M933.0,1767.9h9M937.5,1763.1v9.6M935.2,1767.9h9M939.7,1763.1v9.6M937.4,1768.0h9M941.9,1763.2v9.6M939.6,1768.0h9M944.1,1763.2v9.6M941.8,1768.1h9M946.3,1763.3v9.6M944.0,1768.1h9M948.5,1763.3v9.6M946.2,1768.1h9M950.7,1763.3v9.6M948.4,1768.2h9M952.9,1763.4v9.6M950.6,1768.2h9M955.1,1763.4v9.6M952.8,1768.2h9M957.3,1763.4v9.6M955.0,1768.3h9M959.5,1763.5v9.6M957.2,1768.3h9M961.7,1763.5v9.6M959.4,1768.3h9M963.9,1763.5v9.6M961.6,1768.4h9M966.1,1763.6v9.6M963.8,1768.9h9M968.3,1764.1v9.6M1025.5,1785.7h9M1030.0,1780.9v9.6M1028.0,1785.7h9M1032.5,1780.9v9.6M1030.5,1785.7h9M1035.0,1780.9v9.6M1033.0,1785.7h9M1037.5,1780.9v9.6M1035.5,1785.7h9M1040.0,1780.9v9.6M1038.0,1785.7h9M1042.5,1780.9v9.6M1040.5,1785.7h9M1045.0,1780.9v9.6M1043.0,1785.7h9M1047.5,1780.9v9.6M1045.5,1785.7h9M1050.0,1780.9v9.6M1048.0,1785.7h9M1052.5,1780.9v9.6M1050.5,1785.7h9M1055.0,1780.9v9.6M1053.0,1785.7h9M1057.5,1780.9v9.6M1055.5,1785.7h9M1060.0,1780.9v9.6M1058.0,1785.7h9M1062.5,1780.9v9.6M1060.5,1785.7h9M1065.0,1780.9v9.6M1063.0,1785.7h9M1067.5,1780.9v9.6M1065.5,1785.7h9M1070.0,1780.9v9.6M975.0,1776.6h9M979.5,1771.8v9.6M982.4,1778.1h9M986.9,1773.3v9.6M987.0,1778.1h9M991.5,1773.3v9.6M991.6,1778.1h9M996.1,1773.3v9.6M998.1,1778.1h9M1002.6,1773.3v9.6M1007.3,1778.1h9M1011.8,1773.3v9.6M1009.5,1778.7h9M1014.0,1773.9v9.6M1011.5,1781.4h9M1016.0,1776.6v9.6M1013.7,1784.5h9M1018.2,1779.7v9.6M1015.5,1785.7h9M1020.0,1780.9v9.6M1019.3,1785.7h9M1023.8,1780.9v9.6M1023.0,1785.7h9M1027.5,1780.9v9.6M1027.5,1785.7h9M1032.0,1780.9v9.6M1032.2,1785.7h9M1036.7,1780.9v9.6M1078.9,1785.7h9M1083.4,1780.9v9.6M1085.2,1785.7h9M1089.7,1780.9v9.6M1087.5,1785.7h9M1092.0,1780.9v9.6M1090.0,1785.7h9M1094.5,1780.9v9.6M1093.1,1785.7h9M1097.6,1780.9v9.6M1117.6,1785.7h9M1122.1,1780.9v9.6M1133.7,1785.7h9M1138.2,1780.9v9.6M1148.4,1818.9h9M1152.9,1814.1v9.6M1158.7,1818.9h9M1163.2,1814.1v9.6M1177.3,1818.9h9M1181.8,1814.1v9.6M1183.2,1818.9h9M1187.7,1814.1v9.6" fill="none" stroke="#1f6fa8" stroke-width="2.1"/>
<line x1="851.20" y1="1688.70" x2="872.20" y2="1688.70" stroke="#b8432f" stroke-width="1.8" />
<line x1="860.20" y1="1684.20" x2="860.20" y2="1693.20" stroke="#b8432f" stroke-width="1.8" />
<text transform="translate(884.98,1695.50) scale(1.0089,1)" font-size="17.53" font-weight="normal" font-style="normal" fill="#000" text-anchor="start" >High risk</text>
<line x1="983.80" y1="1688.70" x2="1004.00" y2="1688.70" stroke="#1f6fa8" stroke-width="1.8" />
<line x1="992.80" y1="1684.20" x2="992.80" y2="1693.20" stroke="#1f6fa8" stroke-width="1.8" />
<text transform="translate(1020.55,1695.50) scale(1.0342,1)" font-size="17.53" font-weight="normal" font-style="normal" fill="#000" text-anchor="start" >Low risk</text>
<text transform="translate(795.86,2090.10) scale(0.9617,1)" font-size="22.14" font-weight="normal" font-style="normal" fill="#000" text-anchor="start" ><tspan font-style="italic">P</tspan> = 0.0027</text>
<rect x="763.80" y="2142.40" width="429.60" height="161.60" fill="none" stroke="#000" stroke-width="3" />
<text transform="translate(679.00,2192.00) scale(1.0337,1)" font-size="16.99" font-weight="normal" font-style="normal" fill="#000" text-anchor="start" >High risk</text>
<text transform="translate(679.93,2264.60) scale(1.0807,1)" font-size="16.99" font-weight="normal" font-style="normal" fill="#000" text-anchor="start" >Low risk</text>
<text transform="translate(767.04,2193.00) scale(1.0048,1)" font-size="19.14" font-weight="normal" font-style="normal" fill="#000" text-anchor="start" >267</text>
<text transform="translate(767.05,2265.50) scale(1.0048,1)" font-size="19.14" font-weight="normal" font-style="normal" fill="#000" text-anchor="start" >267</text>
<line x1="783.50" y1="2304.00" x2="783.50" y2="2307.50" stroke="#333" stroke-width="1.5" />
<text transform="translate(778.48,2324.30) scale(1.0261,1)" font-size="17.61" font-weight="normal" font-style="normal" fill="#4d4d4d" text-anchor="start" >0</text>
<text transform="translate(844.75,2193.00) scale(1.0048,1)" font-size="19.14" font-weight="normal" font-style="normal" fill="#000" text-anchor="start" >147</text>
<text transform="translate(844.75,2265.50) scale(1.0048,1)" font-size="19.14" font-weight="normal" font-style="normal" fill="#000" text-anchor="start" >165</text>
<line x1="861.20" y1="2304.00" x2="861.20" y2="2307.50" stroke="#333" stroke-width="1.5" />
<text transform="translate(856.18,2324.30) scale(1.0261,1)" font-size="17.61" font-weight="normal" font-style="normal" fill="#4d4d4d" text-anchor="start" >2</text>
<text transform="translate(927.80,2193.00) scale(1.0048,1)" font-size="19.14" font-weight="normal" font-style="normal" fill="#000" text-anchor="start" >66</text>
<text transform="translate(927.80,2265.50) scale(1.0048,1)" font-size="19.14" font-weight="normal" font-style="normal" fill="#000" text-anchor="start" >86</text>
<line x1="938.90" y1="2304.00" x2="938.90" y2="2307.50" stroke="#333" stroke-width="1.5" />
<text transform="translate(933.88,2324.30) scale(1.0261,1)" font-size="17.61" font-weight="normal" font-style="normal" fill="#4d4d4d" text-anchor="start" >4</text>
<text transform="translate(1005.50,2193.00) scale(1.0048,1)" font-size="19.14" font-weight="normal" font-style="normal" fill="#000" text-anchor="start" >28</text>
<text transform="translate(1005.50,2265.50) scale(1.0048,1)" font-size="19.14" font-weight="normal" font-style="normal" fill="#000" text-anchor="start" >44</text>
<line x1="1016.60" y1="2304.00" x2="1016.60" y2="2307.50" stroke="#333" stroke-width="1.5" />
<text transform="translate(1011.58,2324.30) scale(1.0261,1)" font-size="17.61" font-weight="normal" font-style="normal" fill="#4d4d4d" text-anchor="start" >6</text>
<text transform="translate(1083.20,2193.00) scale(1.0048,1)" font-size="19.14" font-weight="normal" font-style="normal" fill="#000" text-anchor="start" >10</text>
<text transform="translate(1083.20,2265.50) scale(1.0048,1)" font-size="19.14" font-weight="normal" font-style="normal" fill="#000" text-anchor="start" >14</text>
<line x1="1094.30" y1="2304.00" x2="1094.30" y2="2307.50" stroke="#333" stroke-width="1.5" />
<text transform="translate(1089.28,2324.30) scale(1.0261,1)" font-size="17.61" font-weight="normal" font-style="normal" fill="#4d4d4d" text-anchor="start" >8</text>
<text transform="translate(1166.25,2193.00) scale(1.0048,1)" font-size="19.14" font-weight="normal" font-style="normal" fill="#000" text-anchor="start" >1</text>
<text transform="translate(1166.25,2265.50) scale(1.0048,1)" font-size="19.14" font-weight="normal" font-style="normal" fill="#000" text-anchor="start" >6</text>
<line x1="1172.00" y1="2304.00" x2="1172.00" y2="2307.50" stroke="#333" stroke-width="1.5" />
<text transform="translate(1161.95,2324.30) scale(1.0261,1)" font-size="17.61" font-weight="normal" font-style="normal" fill="#4d4d4d" text-anchor="start" >10</text>
<text transform="translate(937.70,2352.30) scale(1.0867,1)" font-size="18.22" font-weight="normal" font-style="normal" fill="#000" text-anchor="start" >Time (year)</text>
<text transform="translate(1264.54,1692.90) scale(0.9674,1)" font-size="51.16" font-weight="normal" font-style="normal" fill="#000" text-anchor="start" >D</text>
<line x1="1402.50" y1="1683.50" x2="1402.50" y2="2252.00" stroke="#ebebeb" stroke-width="2" />
<line x1="1380.00" y1="2228.10" x2="1933.00" y2="2228.10" stroke="#ebebeb" stroke-width="2" />
<line x1="1465.96" y1="1683.50" x2="1465.96" y2="2252.00" stroke="#ebebeb" stroke-width="1.4" />
<line x1="1380.00" y1="2162.92" x2="1933.00" y2="2162.92" stroke="#ebebeb" stroke-width="1.4" />
<line x1="1529.42" y1="1683.50" x2="1529.42" y2="2252.00" stroke="#ebebeb" stroke-width="2" />
<line x1="1380.00" y1="2097.75" x2="1933.00" y2="2097.75" stroke="#ebebeb" stroke-width="2" />
<line x1="1592.89" y1="1683.50" x2="1592.89" y2="2252.00" stroke="#ebebeb" stroke-width="1.4" />
<line x1="1380.00" y1="2032.57" x2="1933.00" y2="2032.57" stroke="#ebebeb" stroke-width="1.4" />
<line x1="1656.35" y1="1683.50" x2="1656.35" y2="2252.00" stroke="#ebebeb" stroke-width="2" />
<line x1="1380.00" y1="1967.40" x2="1933.00" y2="1967.40" stroke="#ebebeb" stroke-width="2" />
<line x1="1719.81" y1="1683.50" x2="1719.81" y2="2252.00" stroke="#ebebeb" stroke-width="1.4" />
<line x1="1380.00" y1="1902.22" x2="1933.00" y2="1902.22" stroke="#ebebeb" stroke-width="1.4" />
<line x1="1783.28" y1="1683.50" x2="1783.28" y2="2252.00" stroke="#ebebeb" stroke-width="2" />
<line x1="1380.00" y1="1837.05" x2="1933.00" y2="1837.05" stroke="#ebebeb" stroke-width="2" />
<line x1="1846.74" y1="1683.50" x2="1846.74" y2="2252.00" stroke="#ebebeb" stroke-width="1.4" />
<line x1="1380.00" y1="1771.88" x2="1933.00" y2="1771.88" stroke="#ebebeb" stroke-width="1.4" />
<line x1="1910.20" y1="1683.50" x2="1910.20" y2="2252.00" stroke="#ebebeb" stroke-width="2" />
<line x1="1380.00" y1="1706.70" x2="1933.00" y2="1706.70" stroke="#ebebeb" stroke-width="2" />
<line x1="1378.50" y1="2253.00" x2="1934.00" y2="1682.00" stroke="#bebebe" stroke-width="3" stroke-dasharray="12 14.2" stroke-dashoffset="-3.7"/>
<path d="M1402.5,2228.1 L1693.6,1751.0 L1910.2,1706.7" fill="none" stroke="#b5362f" stroke-width="3.3" stroke-linejoin="round"/>
<path d="M1402.5,2228.1 L1459.9,2051.5 L1492.0,1997.0 L1656.3,1850.6 L1910.2,1706.7" fill="none" stroke="#1f6fae" stroke-width="3.3" stroke-linejoin="round"/>
<path d="M1402.5,2228.1 L1453.7,2039.4 L1477.9,1975.6 L1621.0,1855.0 L1910.2,1706.7" fill="none" stroke="#dc922e" stroke-width="3.3" stroke-linejoin="round"/>
<rect x="1378.50" y="1682.00" width="556.30" height="571.40" fill="none" stroke="#000" stroke-width="3" />
<line x1="1374.00" y1="1706.70" x2="1378.00" y2="1706.70" stroke="#333" stroke-width="1.5" />
<line x1="1910.20" y1="2253.00" x2="1910.20" y2="2257.00" stroke="#333" stroke-width="1.5" />
<text transform="translate(1336.77,1712.53) scale(1.0045,1)" font-size="17.04" font-weight="bold" font-style="normal" fill="#000" text-anchor="start" >1.00</text>
<line x1="1374.00" y1="1837.05" x2="1378.00" y2="1837.05" stroke="#333" stroke-width="1.5" />
<line x1="1783.28" y1="2253.00" x2="1783.28" y2="2257.00" stroke="#333" stroke-width="1.5" />
<text transform="translate(1336.43,1842.85) scale(1.0045,1)" font-size="17.04" font-weight="bold" font-style="normal" fill="#000" text-anchor="start" >0.75</text>
<line x1="1374.00" y1="1967.40" x2="1378.00" y2="1967.40" stroke="#333" stroke-width="1.5" />
<line x1="1656.35" y1="2253.00" x2="1656.35" y2="2257.00" stroke="#333" stroke-width="1.5" />
<text transform="translate(1336.77,1973.20) scale(1.0045,1)" font-size="17.04" font-weight="bold" font-style="normal" fill="#000" text-anchor="start" >0.50</text>
<line x1="1374.00" y1="2097.75" x2="1378.00" y2="2097.75" stroke="#333" stroke-width="1.5" />
<line x1="1529.42" y1="2253.00" x2="1529.42" y2="2257.00" stroke="#333" stroke-width="1.5" />
<text transform="translate(1336.43,2103.55) scale(1.0045,1)" font-size="17.04" font-weight="bold" font-style="normal" fill="#000" text-anchor="start" >0.25</text>
<line x1="1374.00" y1="2228.10" x2="1378.00" y2="2228.10" stroke="#333" stroke-width="1.5" />
<line x1="1402.50" y1="2253.00" x2="1402.50" y2="2257.00" stroke="#333" stroke-width="1.5" />
<text transform="translate(1336.77,2233.90) scale(1.0045,1)" font-size="17.04" font-weight="bold" font-style="normal" fill="#000" text-anchor="start" >0.00</text>
<text transform="translate(1385.89,2273.50) scale(1.0045,1)" font-size="17.04" font-weight="bold" font-style="normal" fill="#000" text-anchor="start" >0.00</text>
<text transform="translate(1512.65,2273.50) scale(1.0045,1)" font-size="17.04" font-weight="bold" font-style="normal" fill="#000" text-anchor="start" >0.25</text>
<text transform="translate(1639.74,2273.50) scale(1.0045,1)" font-size="17.04" font-weight="bold" font-style="normal" fill="#000" text-anchor="start" >0.50</text>
<text transform="translate(1766.50,2273.50) scale(1.0045,1)" font-size="17.04" font-weight="bold" font-style="normal" fill="#000" text-anchor="start" >0.75</text>
<text transform="translate(1893.42,2273.50) scale(1.0045,1)" font-size="17.04" font-weight="bold" font-style="normal" fill="#000" text-anchor="start" >1.00</text>
<text transform="translate(1549.92,2315.00) scale(1.1197,1)" font-size="20.96" font-weight="normal" font-style="normal" fill="#000" text-anchor="start" >False positive rate</text>
<text transform="translate(1293.50,2058.57) rotate(-90)" font-size="23.43" font-weight="normal" font-style="normal" fill="#000" xml:space="preserve">True positive rate</text>
<text transform="translate(1685.60,2104.90) scale(1.0381,1)" font-size="18.86" font-weight="normal" font-style="normal" fill="#b5362f" text-anchor="start" >AUC at 1 year = 0.666</text>
<text transform="translate(1681.70,2156.80) scale(1.0325,1)" font-size="18.86" font-weight="normal" font-style="normal" fill="#1f6fae" text-anchor="start" >AUC at 3 years = 0.664</text>
<text transform="translate(1681.70,2209.20) scale(1.0106,1)" font-size="19.29" font-weight="normal" font-style="normal" fill="#dc922e" text-anchor="start" >AUC at 5 years = 0.695</text>
</svg>
</body></html>
